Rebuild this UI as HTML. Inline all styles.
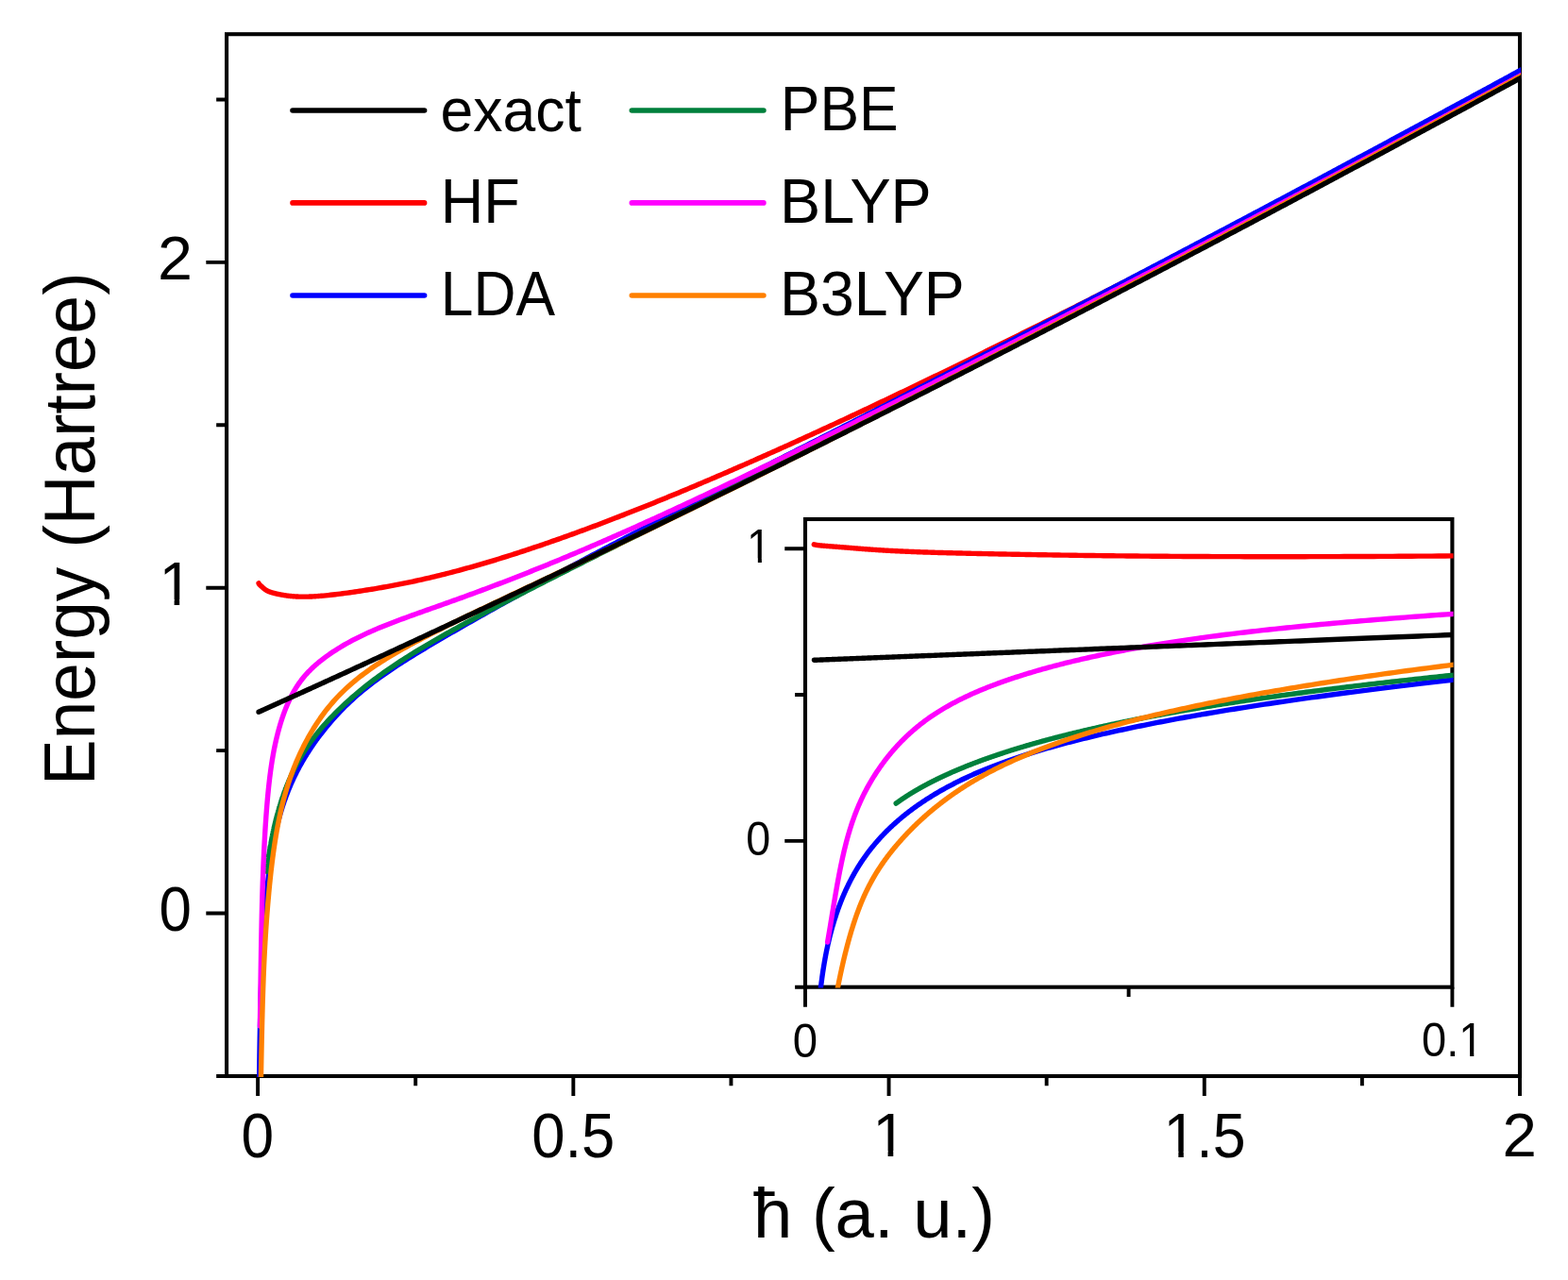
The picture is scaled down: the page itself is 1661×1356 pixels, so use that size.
<!DOCTYPE html>
<html lang="en"><head><meta charset="utf-8"><title>Energy vs ħ</title>
<style>html,body{margin:0;padding:0;background:#fff;overflow:hidden}svg{display:block}</style></head>
<body>
<svg xmlns="http://www.w3.org/2000/svg" width="1661" height="1356" viewBox="0 0 1661 1356" font-family="'Liberation Sans', sans-serif" fill="#000">
<defs>
<clipPath id="cm"><rect x="239.05" y="35.2" width="1372.05" height="1105.8999999999999"/></clipPath>
<clipPath id="ci"><rect x="852.0" y="549.0" width="687.5000000000001" height="497.50000000000006"/></clipPath>
<clipPath id="k1"><path d="M-5,-80H60V-9H33.95V3H25.25V-9H-5Z"/></clipPath>
<clipPath id="k15"><path d="M-5,-80H200V3H52V-9H33.95V3H25.25V-9H-5Z"/></clipPath>
<clipPath id="k01"><path d="M-5,-80H200V-9H117.45V3H108.55V-9H89V3H-5Z"/></clipPath>
</defs>
<rect width="1661" height="1356" fill="#fff"/>
<g id="main-axes">
<rect x="240.05" y="36.2" width="1369.95" height="1103.8" fill="none" stroke="#000" stroke-width="4.1"/>
<path d="M273.10,1140.0V1161.0M607.33,1140.0V1161.0M941.55,1140.0V1161.0M1275.78,1140.0V1161.0M1610.00,1140.0V1161.0M440.21,1140.0V1150.2M774.44,1140.0V1150.2M1108.66,1140.0V1150.2M1442.89,1140.0V1150.2M240.05,967.50H218.3M240.05,622.70H218.3M240.05,277.90H218.3M240.05,1140.00H229.15M240.05,795.10H229.15M240.05,450.30H229.15M240.05,105.50H229.15" fill="none" stroke="#000" stroke-width="3.8999999999999995"/>
</g>
<g id="inset-axes">
<rect x="853.0" y="550.0" width="685.4000000000001" height="495.70000000000005" fill="none" stroke="#000" stroke-width="4.1"/>
<path d="M853.00,1045.7V1066.7M1538.40,1045.7V1066.7M1195.60,1045.7V1055.9M853.0,890.85H831.25M853.0,581.20H831.25M853.0,1045.70H842.1M853.0,736.03H842.1" fill="none" stroke="#000" stroke-width="3.8999999999999995"/>
</g>
<g id="main-curves" clip-path="url(#cm)" fill="none" stroke-width="5.4" stroke-linecap="round" stroke-linejoin="round">
<path stroke="#ff0000" d="M274.02,617.80 L274.03,617.83 L274.04,617.86 L274.05,617.89 L274.06,617.92 L274.07,617.95 L274.08,617.98 L274.09,618.01 L274.10,618.04 L274.11,618.07 L274.12,618.10 L274.13,618.13 L274.14,618.16 L274.15,618.18 L274.16,618.21 L274.18,618.24 L274.19,618.26 L274.20,618.29 L274.21,618.31 L274.22,618.34 L274.24,618.37 L274.25,618.39 L274.26,618.41 L274.27,618.44 L274.29,618.46 L274.30,618.49 L274.31,618.51 L274.32,618.53 L274.34,618.56 L274.35,618.58 L274.36,618.60 L274.38,618.62 L274.39,618.65 L274.41,618.67 L274.42,618.69 L274.43,618.71 L274.45,618.73 L274.46,618.75 L274.48,618.77 L274.49,618.79 L274.51,618.82 L274.52,618.84 L274.54,618.86 L274.55,618.88 L274.57,618.90 L274.59,618.92 L274.60,618.94 L274.62,618.96 L274.63,618.98 L274.65,619.00 L274.67,619.02 L274.68,619.03 L274.70,619.05 L274.72,619.07 L274.74,619.09 L274.75,619.11 L274.77,619.13 L274.79,619.15 L274.81,619.17 L274.83,619.19 L274.85,619.21 L274.86,619.23 L274.88,619.25 L274.90,619.27 L274.92,619.29 L274.94,619.31 L274.96,619.33 L274.98,619.34 L275.00,619.36 L275.02,619.38 L275.04,619.40 L275.06,619.42 L275.09,619.44 L275.11,619.46 L275.13,619.48 L275.15,619.50 L275.17,619.52 L275.20,619.54 L275.22,619.56 L275.24,619.59 L275.26,619.61 L275.29,619.63 L275.31,619.65 L275.34,619.67 L275.36,619.69 L275.38,619.71 L275.41,619.73 L275.43,619.76 L275.46,619.78 L275.48,619.80 L275.51,619.82 L275.54,619.85 L275.56,619.87 L275.59,619.89 L275.62,619.92 L275.64,619.94 L275.67,619.96 L275.70,619.99 L275.73,620.01 L275.76,620.04 L275.78,620.06 L275.81,620.09 L275.84,620.11 L275.87,620.14 L275.90,620.17 L275.93,620.19 L275.96,620.22 L275.99,620.25 L276.03,620.27 L276.06,620.30 L276.09,620.33 L276.12,620.36 L276.15,620.39 L276.19,620.42 L276.22,620.45 L276.25,620.48 L276.29,620.51 L276.32,620.54 L276.36,620.57 L276.39,620.60 L276.43,620.63 L276.46,620.66 L276.50,620.69 L276.54,620.73 L276.57,620.76 L276.61,620.79 L276.65,620.83 L276.69,620.86 L276.73,620.90 L276.77,620.93 L276.81,620.97 L276.85,621.01 L276.89,621.04 L276.93,621.08 L276.97,621.12 L277.01,621.15 L277.05,621.19 L277.10,621.23 L277.14,621.27 L277.18,621.31 L277.23,621.35 L277.27,621.39 L277.32,621.44 L277.36,621.48 L277.41,621.52 L277.45,621.56 L277.50,621.61 L277.55,621.65 L277.60,621.69 L277.65,621.74 L277.69,621.79 L277.74,621.83 L277.79,621.88 L277.85,621.93 L277.90,621.97 L277.95,622.02 L278.00,622.07 L278.05,622.12 L278.11,622.17 L278.16,622.22 L278.22,622.27 L278.27,622.32 L278.33,622.37 L278.38,622.43 L278.44,622.48 L278.50,622.53 L278.56,622.59 L278.62,622.64 L278.68,622.69 L278.74,622.75 L278.80,622.80 L278.86,622.86 L278.92,622.91 L278.98,622.97 L279.05,623.03 L279.11,623.08 L279.18,623.14 L279.24,623.20 L279.31,623.25 L279.38,623.31 L279.44,623.37 L279.51,623.43 L279.58,623.48 L279.65,623.54 L279.72,623.60 L279.79,623.66 L279.87,623.72 L279.94,623.78 L280.01,623.84 L280.09,623.90 L280.16,623.96 L280.24,624.01 L280.32,624.07 L280.40,624.13 L280.47,624.19 L280.55,624.25 L280.64,624.31 L280.72,624.37 L280.80,624.43 L280.88,624.49 L280.97,624.55 L281.05,624.61 L281.14,624.67 L281.22,624.73 L281.31,624.79 L281.40,624.85 L281.49,624.91 L281.58,624.97 L281.67,625.03 L281.77,625.09 L281.86,625.15 L281.95,625.21 L282.05,625.27 L282.15,625.33 L282.24,625.38 L282.34,625.44 L282.44,625.50 L282.54,625.56 L282.65,625.62 L282.75,625.67 L282.85,625.73 L282.96,625.79 L283.07,625.84 L283.17,625.90 L283.28,625.96 L283.39,626.01 L283.50,626.07 L283.62,626.12 L283.73,626.18 L283.84,626.23 L283.96,626.28 L284.08,626.34 L284.20,626.39 L284.32,626.44 L284.44,626.50 L284.56,626.55 L284.68,626.60 L284.81,626.65 L284.94,626.71 L285.06,626.76 L285.19,626.81 L285.32,626.86 L285.46,626.91 L285.59,626.96 L285.73,627.01 L285.86,627.06 L286.00,627.11 L286.14,627.16 L286.28,627.21 L286.42,627.26 L286.57,627.31 L286.71,627.36 L286.86,627.40 L287.01,627.45 L287.16,627.50 L287.31,627.55 L287.46,627.60 L287.62,627.65 L287.78,627.70 L287.93,627.74 L288.10,627.79 L288.26,627.84 L288.42,627.89 L288.59,627.93 L288.75,627.98 L288.92,628.03 L289.09,628.08 L289.27,628.13 L289.44,628.17 L289.62,628.22 L289.80,628.27 L289.98,628.32 L290.16,628.36 L290.35,628.41 L290.53,628.46 L290.72,628.51 L290.91,628.55 L291.10,628.60 L291.30,628.65 L291.49,628.70 L291.69,628.74 L291.89,628.79 L292.10,628.84 L292.30,628.89 L292.51,628.94 L292.72,628.98 L292.93,629.03 L293.15,629.08 L293.36,629.13 L293.58,629.18 L293.80,629.22 L294.03,629.27 L294.25,629.32 L294.48,629.37 L294.71,629.42 L294.95,629.47 L295.18,629.52 L295.42,629.56 L295.66,629.61 L295.91,629.66 L296.15,629.71 L296.40,629.76 L296.66,629.81 L296.91,629.86 L297.17,629.91 L297.43,629.96 L297.69,630.01 L297.96,630.06 L298.23,630.11 L298.50,630.16 L298.77,630.21 L299.05,630.26 L299.33,630.31 L299.61,630.36 L299.90,630.41 L300.19,630.46 L300.48,630.51 L300.78,630.55 L301.08,630.60 L301.38,630.65 L301.69,630.70 L301.99,630.75 L302.31,630.79 L302.62,630.84 L302.94,630.89 L303.26,630.93 L303.59,630.98 L303.92,631.03 L304.25,631.07 L304.59,631.12 L304.93,631.16 L305.27,631.20 L305.62,631.25 L305.97,631.29 L306.33,631.33 L306.69,631.37 L307.05,631.41 L307.42,631.45 L307.79,631.49 L308.17,631.53 L308.54,631.56 L308.93,631.60 L309.31,631.64 L309.71,631.67 L310.10,631.71 L310.50,631.74 L310.91,631.77 L311.32,631.80 L311.73,631.83 L312.15,631.86 L312.57,631.89 L312.99,631.91 L313.43,631.94 L313.86,631.96 L314.30,631.99 L314.75,632.01 L315.20,632.03 L315.65,632.05 L316.11,632.07 L316.58,632.08 L317.05,632.10 L317.52,632.11 L318.00,632.13 L318.49,632.14 L318.98,632.15 L319.48,632.15 L319.98,632.16 L320.48,632.17 L321.00,632.17 L321.51,632.17 L322.04,632.17 L322.57,632.17 L323.10,632.16 L323.64,632.16 L324.19,632.15 L324.74,632.14 L325.30,632.13 L325.86,632.12 L326.43,632.10 L327.01,632.08 L327.59,632.06 L328.18,632.04 L328.78,632.02 L329.38,631.99 L329.99,631.96 L330.60,631.93 L331.22,631.90 L331.85,631.87 L332.49,631.83 L333.13,631.79 L333.78,631.75 L334.44,631.71 L335.10,631.67 L335.77,631.62 L336.45,631.57 L337.13,631.52 L337.82,631.47 L338.52,631.42 L339.23,631.36 L339.95,631.30 L342.51,631.08 L345.07,630.83 L347.63,630.58 L350.19,630.31 L352.75,630.02 L355.31,629.72 L357.87,629.41 L360.44,629.10 L363.00,628.77 L365.56,628.43 L368.12,628.08 L370.68,627.72 L373.24,627.36 L375.80,626.99 L378.36,626.61 L380.93,626.23 L383.49,625.83 L386.05,625.44 L388.61,625.03 L391.17,624.62 L393.73,624.21 L396.29,623.79 L398.85,623.36 L401.42,622.92 L403.98,622.48 L406.54,622.03 L409.10,621.58 L411.66,621.12 L414.22,620.64 L416.78,620.17 L419.34,619.68 L421.91,619.18 L424.47,618.68 L427.03,618.17 L429.59,617.65 L432.15,617.13 L434.71,616.59 L437.27,616.05 L439.83,615.50 L442.40,614.94 L444.96,614.38 L447.52,613.80 L450.08,613.22 L452.64,612.63 L455.20,612.03 L457.76,611.43 L460.32,610.82 L462.89,610.20 L465.45,609.57 L468.01,608.94 L470.57,608.30 L473.13,607.65 L475.69,606.99 L478.25,606.33 L480.82,605.66 L483.38,604.99 L485.94,604.30 L488.50,603.61 L491.06,602.92 L493.62,602.22 L496.18,601.51 L498.74,600.79 L501.31,600.07 L503.87,599.34 L506.43,598.61 L508.99,597.87 L511.55,597.12 L514.11,596.37 L516.67,595.61 L519.23,594.85 L521.80,594.08 L524.36,593.30 L526.92,592.52 L529.48,591.73 L532.04,590.94 L534.60,590.14 L537.16,589.34 L539.72,588.53 L542.29,587.72 L544.85,586.90 L547.41,586.08 L549.97,585.25 L552.53,584.42 L555.09,583.58 L557.65,582.73 L560.21,581.89 L562.78,581.03 L565.34,580.18 L567.90,579.31 L570.46,578.45 L573.02,577.58 L575.58,576.70 L578.14,575.82 L580.70,574.94 L583.27,574.05 L585.83,573.15 L588.39,572.26 L590.95,571.36 L593.51,570.45 L596.07,569.54 L598.63,568.63 L601.20,567.71 L603.76,566.79 L606.32,565.86 L608.88,564.94 L611.44,564.00 L614.00,563.07 L616.56,562.13 L619.12,561.18 L621.69,560.24 L624.25,559.28 L626.81,558.33 L629.37,557.37 L631.93,556.41 L634.49,555.45 L637.05,554.48 L639.61,553.51 L642.18,552.53 L644.74,551.55 L647.30,550.57 L649.86,549.59 L652.42,548.60 L654.98,547.61 L657.54,546.61 L660.10,545.62 L662.67,544.61 L665.23,543.61 L667.79,542.60 L670.35,541.60 L672.91,540.58 L675.47,539.57 L678.03,538.55 L680.59,537.53 L683.16,536.50 L685.72,535.48 L688.28,534.45 L690.84,533.42 L693.40,532.38 L695.96,531.34 L698.52,530.30 L701.08,529.26 L703.65,528.21 L706.21,527.17 L708.77,526.11 L711.33,525.06 L713.89,524.00 L716.45,522.95 L719.01,521.89 L721.58,520.82 L724.14,519.76 L726.70,518.69 L729.26,517.62 L731.82,516.54 L734.38,515.47 L736.94,514.39 L739.50,513.31 L742.07,512.23 L744.63,511.14 L747.19,510.05 L749.75,508.96 L752.31,507.87 L754.87,506.78 L757.43,505.68 L759.99,504.58 L762.56,503.48 L765.12,502.38 L767.68,501.28 L770.24,500.17 L772.80,499.06 L775.36,497.95 L777.92,496.84 L780.48,495.72 L783.05,494.60 L785.61,493.48 L788.17,492.36 L790.73,491.24 L793.29,490.11 L795.85,488.99 L798.41,487.86 L800.97,486.73 L803.54,485.59 L806.10,484.46 L808.66,483.32 L811.22,482.18 L813.78,481.04 L816.34,479.90 L818.90,478.76 L821.46,477.61 L824.03,476.46 L826.59,475.31 L829.15,474.16 L831.71,473.01 L834.27,471.85 L836.83,470.70 L839.39,469.54 L841.95,468.38 L844.52,467.22 L847.08,466.05 L849.64,464.89 L852.20,463.72 L854.76,462.55 L857.32,461.38 L859.88,460.21 L862.45,459.04 L865.01,457.86 L867.57,456.68 L870.13,455.50 L872.69,454.32 L875.25,453.14 L877.81,451.96 L880.37,450.78 L882.94,449.59 L885.50,448.40 L888.06,447.21 L890.62,446.02 L893.18,444.83 L895.74,443.64 L898.30,442.44 L900.86,441.24 L903.43,440.05 L905.99,438.85 L908.55,437.65 L911.11,436.44 L913.67,435.24 L916.23,434.03 L918.79,432.83 L921.35,431.62 L923.92,430.41 L926.48,429.20 L929.04,427.99 L931.60,426.78 L934.16,425.56 L936.72,424.35 L939.28,423.13 L941.84,421.91 L944.41,420.70 L946.97,419.48 L949.53,418.25 L952.09,417.03 L954.65,415.81 L957.21,414.58 L959.77,413.36 L962.33,412.13 L964.90,410.90 L967.46,409.67 L970.02,408.44 L972.58,407.21 L975.14,405.97 L977.70,404.74 L980.26,403.51 L982.83,402.27 L985.39,401.03 L987.95,399.79 L990.51,398.55 L993.07,397.31 L995.63,396.07 L998.19,394.83 L1000.75,393.58 L1003.32,392.34 L1005.88,391.09 L1008.44,389.85 L1011.00,388.60 L1013.56,387.35 L1016.12,386.10 L1018.68,384.85 L1021.24,383.60 L1023.81,382.34 L1026.37,381.09 L1028.93,379.84 L1031.49,378.58 L1034.05,377.32 L1036.61,376.07 L1039.17,374.81 L1041.73,373.55 L1044.30,372.29 L1046.86,371.03 L1049.42,369.76 L1051.98,368.50 L1054.54,367.24 L1057.10,365.97 L1059.66,364.71 L1062.22,363.44 L1064.79,362.17 L1067.35,360.90 L1069.91,359.63 L1072.47,358.36 L1075.03,357.09 L1077.59,355.82 L1080.15,354.55 L1082.71,353.27 L1085.28,352.00 L1087.84,350.73 L1090.40,349.45 L1092.96,348.17 L1095.52,346.89 L1098.08,345.62 L1100.64,344.34 L1103.21,343.06 L1105.77,341.78 L1108.33,340.49 L1110.89,339.21 L1113.45,337.93 L1116.01,336.64 L1118.57,335.36 L1121.13,334.07 L1123.70,332.79 L1126.26,331.50 L1128.82,330.21 L1131.38,328.92 L1133.94,327.64 L1136.50,326.35 L1139.06,325.05 L1141.62,323.76 L1144.19,322.47 L1146.75,321.18 L1149.31,319.88 L1151.87,318.59 L1154.43,317.29 L1156.99,316.00 L1159.55,314.70 L1162.11,313.40 L1164.68,312.11 L1167.24,310.81 L1169.80,309.51 L1172.36,308.21 L1174.92,306.91 L1177.48,305.61 L1180.04,304.30 L1182.60,303.00 L1185.17,301.70 L1187.73,300.39 L1190.29,299.09 L1192.85,297.78 L1195.41,296.48 L1197.97,295.17 L1200.53,293.86 L1203.09,292.56 L1205.66,291.25 L1208.22,289.94 L1210.78,288.63 L1213.34,287.32 L1215.90,286.01 L1218.46,284.69 L1221.02,283.38 L1223.58,282.07 L1226.15,280.75 L1228.71,279.44 L1231.27,278.13 L1233.83,276.81 L1236.39,275.49 L1238.95,274.18 L1241.51,272.86 L1244.08,271.54 L1246.64,270.22 L1249.20,268.90 L1251.76,267.58 L1254.32,266.26 L1256.88,264.94 L1259.44,263.62 L1262.00,262.30 L1264.57,260.98 L1267.13,259.65 L1269.69,258.33 L1272.25,257.00 L1274.81,255.68 L1277.37,254.35 L1279.93,253.03 L1282.49,251.70 L1285.06,250.37 L1287.62,249.05 L1290.18,247.72 L1292.74,246.39 L1295.30,245.06 L1297.86,243.73 L1300.42,242.40 L1302.98,241.07 L1305.55,239.74 L1308.11,238.40 L1310.67,237.07 L1313.23,235.74 L1315.79,234.40 L1318.35,233.07 L1320.91,231.73 L1323.47,230.40 L1326.04,229.06 L1328.60,227.73 L1331.16,226.39 L1333.72,225.05 L1336.28,223.71 L1338.84,222.38 L1341.40,221.04 L1343.96,219.70 L1346.53,218.36 L1349.09,217.02 L1351.65,215.68 L1354.21,214.33 L1356.77,212.99 L1359.33,211.65 L1361.89,210.31 L1364.46,208.96 L1367.02,207.62 L1369.58,206.27 L1372.14,204.93 L1374.70,203.58 L1377.26,202.24 L1379.82,200.89 L1382.38,199.54 L1384.95,198.20 L1387.51,196.85 L1390.07,195.50 L1392.63,194.15 L1395.19,192.80 L1397.75,191.45 L1400.31,190.10 L1402.87,188.75 L1405.44,187.40 L1408.00,186.05 L1410.56,184.70 L1413.12,183.34 L1415.68,181.99 L1418.24,180.64 L1420.80,179.28 L1423.36,177.93 L1425.93,176.58 L1428.49,175.22 L1431.05,173.86 L1433.61,172.51 L1436.17,171.15 L1438.73,169.79 L1441.29,168.44 L1443.85,167.08 L1446.42,165.72 L1448.98,164.36 L1451.54,163.00 L1454.10,161.64 L1456.66,160.28 L1459.22,158.92 L1461.78,157.56 L1464.34,156.20 L1466.91,154.84 L1469.47,153.48 L1472.03,152.11 L1474.59,150.75 L1477.15,149.39 L1479.71,148.02 L1482.27,146.66 L1484.84,145.29 L1487.40,143.93 L1489.96,142.56 L1492.52,141.20 L1495.08,139.83 L1497.64,138.46 L1500.20,137.10 L1502.76,135.73 L1505.33,134.36 L1507.89,132.99 L1510.45,131.62 L1513.01,130.25 L1515.57,128.88 L1518.13,127.51 L1520.69,126.14 L1523.25,124.77 L1525.82,123.40 L1528.38,122.03 L1530.94,120.66 L1533.50,119.29 L1536.06,117.91 L1538.62,116.54 L1541.18,115.17 L1543.74,113.79 L1546.31,112.42 L1548.87,111.04 L1551.43,109.67 L1553.99,108.29 L1556.55,106.92 L1559.11,105.54 L1561.67,104.16 L1564.23,102.79 L1566.80,101.41 L1569.36,100.03 L1571.92,98.65 L1574.48,97.27 L1577.04,95.90 L1579.60,94.52 L1582.16,93.14 L1584.72,91.76 L1587.29,90.38 L1589.85,89.00 L1592.41,87.62 L1594.97,86.23 L1597.53,84.85 L1600.09,83.47 L1602.65,82.09 L1605.22,80.70 L1607.78,79.32 L1610.34,77.94 L1612.90,76.55 L1615.46,75.17 L1618.02,73.79"/>
<path stroke="#0000ff" d="M274.44,1171.58 L274.45,1169.84 L274.46,1168.11 L274.48,1166.40 L274.49,1164.71 L274.50,1163.02 L274.52,1161.35 L274.53,1159.69 L274.55,1158.05 L274.56,1156.42 L274.57,1154.80 L274.59,1153.19 L274.60,1151.60 L274.62,1150.02 L274.63,1148.45 L274.65,1146.90 L274.66,1145.35 L274.68,1143.82 L274.69,1142.30 L274.71,1140.79 L274.73,1139.29 L274.74,1137.81 L274.76,1136.33 L274.78,1134.87 L274.79,1133.41 L274.81,1131.97 L274.83,1130.53 L274.84,1129.11 L274.86,1127.70 L274.88,1126.30 L274.89,1124.90 L274.91,1123.52 L274.93,1122.15 L274.95,1120.78 L274.97,1119.43 L274.98,1118.08 L275.00,1116.74 L275.02,1115.42 L275.04,1114.10 L275.06,1112.79 L275.08,1111.48 L275.10,1110.19 L275.12,1108.90 L275.14,1107.62 L275.16,1106.35 L275.18,1105.09 L275.20,1103.83 L275.22,1102.58 L275.24,1101.34 L275.26,1100.11 L275.28,1098.88 L275.30,1097.66 L275.33,1096.44 L275.35,1095.24 L275.37,1094.03 L275.39,1092.84 L275.41,1091.65 L275.44,1090.46 L275.46,1089.29 L275.48,1088.11 L275.51,1086.94 L275.53,1085.78 L275.56,1084.62 L275.58,1083.47 L275.60,1082.32 L275.63,1081.18 L275.65,1080.04 L275.68,1078.90 L275.70,1077.77 L275.73,1076.65 L275.76,1075.52 L275.78,1074.40 L275.81,1073.29 L275.83,1072.17 L275.86,1071.06 L275.89,1069.96 L275.92,1068.85 L275.94,1067.75 L275.97,1066.65 L276.00,1065.56 L276.03,1064.46 L276.06,1063.37 L276.09,1062.28 L276.12,1061.20 L276.15,1060.11 L276.18,1059.03 L276.21,1057.94 L276.24,1056.86 L276.27,1055.78 L276.30,1054.71 L276.33,1053.63 L276.36,1052.56 L276.39,1051.49 L276.43,1050.42 L276.46,1049.35 L276.49,1048.28 L276.53,1047.22 L276.56,1046.16 L276.59,1045.10 L276.63,1044.04 L276.66,1042.98 L276.70,1041.92 L276.73,1040.87 L276.77,1039.82 L276.81,1038.77 L276.84,1037.72 L276.88,1036.67 L276.92,1035.63 L276.95,1034.58 L276.99,1033.54 L277.03,1032.50 L277.07,1031.46 L277.11,1030.42 L277.15,1029.39 L277.19,1028.35 L277.23,1027.32 L277.27,1026.29 L277.31,1025.26 L277.35,1024.23 L277.39,1023.21 L277.44,1022.18 L277.48,1021.16 L277.52,1020.14 L277.57,1019.12 L277.61,1018.10 L277.65,1017.08 L277.70,1016.07 L277.74,1015.05 L277.79,1014.04 L277.84,1013.03 L277.88,1012.02 L277.93,1011.01 L277.98,1010.01 L278.03,1009.00 L278.07,1008.00 L278.12,1007.00 L278.17,1006.00 L278.22,1005.00 L278.27,1004.00 L278.32,1003.00 L278.38,1002.01 L278.43,1001.02 L278.48,1000.02 L278.53,999.03 L278.59,998.04 L278.64,997.06 L278.69,996.07 L278.75,995.09 L278.81,994.10 L278.86,993.12 L278.92,992.14 L278.98,991.16 L279.03,990.18 L279.09,989.20 L279.15,988.23 L279.21,987.25 L279.27,986.28 L279.33,985.31 L279.39,984.33 L279.46,983.37 L279.52,982.40 L279.58,981.43 L279.64,980.46 L279.71,979.50 L279.77,978.53 L279.84,977.57 L279.91,976.61 L279.97,975.65 L280.04,974.69 L280.11,973.73 L280.18,972.77 L280.25,971.82 L280.32,970.86 L280.39,969.91 L280.46,968.96 L280.53,968.01 L280.61,967.05 L280.68,966.10 L280.76,965.16 L280.83,964.21 L280.91,963.26 L280.99,962.32 L281.06,961.37 L281.14,960.43 L281.22,959.48 L281.30,958.54 L281.38,957.60 L281.46,956.66 L281.55,955.72 L281.63,954.78 L281.71,953.84 L281.80,952.91 L281.88,951.97 L281.97,951.04 L282.06,950.10 L282.15,949.17 L282.23,948.24 L282.32,947.30 L282.42,946.37 L282.51,945.44 L282.60,944.51 L282.69,943.58 L282.79,942.65 L282.88,941.73 L282.98,940.80 L283.08,939.87 L283.18,938.95 L283.27,938.02 L283.37,937.10 L283.48,936.17 L283.58,935.25 L283.68,934.33 L283.79,933.41 L283.89,932.49 L284.00,931.57 L284.10,930.65 L284.21,929.73 L284.32,928.81 L284.43,927.89 L284.55,926.98 L284.66,926.06 L284.77,925.15 L284.89,924.24 L285.00,923.32 L285.12,922.41 L285.24,921.50 L285.36,920.59 L285.48,919.68 L285.60,918.78 L285.72,917.87 L285.85,916.97 L285.97,916.06 L286.10,915.16 L286.23,914.26 L286.36,913.36 L286.49,912.46 L286.62,911.56 L286.75,910.66 L286.89,909.77 L287.02,908.87 L287.16,907.98 L287.30,907.09 L287.44,906.20 L287.58,905.31 L287.72,904.42 L287.87,903.54 L288.01,902.65 L288.16,901.77 L288.31,900.89 L288.46,900.00 L288.61,899.13 L288.76,898.25 L288.92,897.37 L289.07,896.50 L289.23,895.62 L289.39,894.75 L289.55,893.88 L289.71,893.01 L289.88,892.15 L290.04,891.28 L290.21,890.42 L290.38,889.56 L290.55,888.70 L290.72,887.84 L290.89,886.98 L291.07,886.13 L291.24,885.27 L291.42,884.42 L291.60,883.57 L291.79,882.72 L291.97,881.88 L292.16,881.03 L292.34,880.19 L292.53,879.35 L292.73,878.51 L292.92,877.67 L293.11,876.84 L293.31,876.00 L293.51,875.17 L293.71,874.34 L293.91,873.51 L294.12,872.68 L294.33,871.85 L294.54,871.03 L294.75,870.20 L294.96,869.38 L295.18,868.56 L295.39,867.74 L295.61,866.92 L295.83,866.11 L296.06,865.29 L296.28,864.48 L296.51,863.66 L296.74,862.85 L296.98,862.04 L297.21,861.23 L297.45,860.42 L297.69,859.61 L297.93,858.81 L298.18,858.00 L298.42,857.20 L298.67,856.39 L298.92,855.59 L299.18,854.79 L299.44,853.99 L299.70,853.19 L299.96,852.39 L300.22,851.59 L300.49,850.79 L300.76,850.00 L301.03,849.20 L301.31,848.40 L301.59,847.61 L301.87,846.82 L302.15,846.02 L302.44,845.23 L302.72,844.44 L303.02,843.65 L303.31,842.85 L303.61,842.06 L303.91,841.27 L304.21,840.48 L304.52,839.69 L304.83,838.90 L305.14,838.11 L305.46,837.32 L305.78,836.53 L306.10,835.75 L306.42,834.96 L306.75,834.17 L307.08,833.38 L307.42,832.59 L307.76,831.80 L308.10,831.02 L308.44,830.23 L308.79,829.44 L309.14,828.65 L309.50,827.86 L309.86,827.08 L310.22,826.29 L310.58,825.50 L310.95,824.71 L311.33,823.92 L311.70,823.13 L312.08,822.34 L312.47,821.55 L312.85,820.76 L313.25,819.97 L313.64,819.18 L314.04,818.38 L314.45,817.59 L314.85,816.80 L315.26,816.01 L315.68,815.21 L316.10,814.42 L316.52,813.62 L316.95,812.83 L317.38,812.03 L317.82,811.23 L318.26,810.43 L318.70,809.64 L319.15,808.84 L319.61,808.04 L320.07,807.23 L320.53,806.43 L321.00,805.63 L321.47,804.83 L321.94,804.02 L322.43,803.21 L322.91,802.41 L323.40,801.60 L323.90,800.79 L324.40,799.98 L324.90,799.17 L325.41,798.35 L325.93,797.54 L326.45,796.72 L326.98,795.91 L327.51,795.09 L328.04,794.27 L328.58,793.45 L329.13,792.62 L329.68,791.80 L330.24,790.97 L330.80,790.14 L331.37,789.31 L331.95,788.48 L332.53,787.65 L333.11,786.82 L333.70,785.98 L334.30,785.14 L334.90,784.30 L335.51,783.46 L336.13,782.62 L336.75,781.77 L337.37,780.92 L338.01,780.07 L338.65,779.22 L339.29,778.37 L339.95,777.51 L342.51,774.22 L345.07,771.02 L347.63,767.91 L350.19,764.89 L352.75,761.96 L355.31,759.11 L357.87,756.34 L360.44,753.64 L363.00,751.01 L365.56,748.45 L368.12,745.96 L370.68,743.52 L373.24,741.15 L375.80,738.84 L378.36,736.58 L380.93,734.37 L383.49,732.21 L386.05,730.10 L388.61,728.04 L391.17,726.02 L393.73,724.05 L396.29,722.11 L398.85,720.21 L401.42,718.34 L403.98,716.51 L406.54,714.70 L409.10,712.92 L411.66,711.16 L414.22,709.43 L416.78,707.71 L419.34,706.02 L421.91,704.34 L424.47,702.68 L427.03,701.04 L429.59,699.41 L432.15,697.80 L434.71,696.20 L437.27,694.61 L439.83,693.03 L442.40,691.47 L444.96,689.91 L447.52,688.36 L450.08,686.82 L452.64,685.28 L455.20,683.76 L457.76,682.24 L460.32,680.73 L462.89,679.22 L465.45,677.72 L468.01,676.22 L470.57,674.73 L473.13,673.24 L475.69,671.76 L478.25,670.28 L480.82,668.80 L483.38,667.32 L485.94,665.85 L488.50,664.39 L491.06,662.92 L493.62,661.46 L496.18,659.99 L498.74,658.54 L501.31,657.08 L503.87,655.62 L506.43,654.17 L508.99,652.72 L511.55,651.28 L514.11,649.83 L516.67,648.39 L519.23,646.95 L521.80,645.52 L524.36,644.08 L526.92,642.65 L529.48,641.22 L532.04,639.80 L534.60,638.37 L537.16,636.95 L539.72,635.53 L542.29,634.11 L544.85,632.70 L547.41,631.28 L549.97,629.87 L552.53,628.46 L555.09,627.06 L557.65,625.65 L560.21,624.25 L562.78,622.85 L565.34,621.45 L567.90,620.06 L570.46,618.66 L573.02,617.27 L575.58,615.88 L578.14,614.49 L580.70,613.11 L583.27,611.73 L585.83,610.34 L588.39,608.96 L590.95,607.59 L593.51,606.21 L596.07,604.84 L598.63,603.46 L601.20,602.09 L603.76,600.72 L606.32,599.36 L608.88,597.99 L611.44,596.63 L614.00,595.27 L616.56,593.91 L619.12,592.55 L621.69,591.19 L624.25,589.84 L626.81,588.48 L629.37,587.13 L631.93,585.78 L634.49,584.43 L637.05,583.08 L639.61,581.74 L642.18,580.39 L644.74,579.05 L647.30,577.71 L649.86,576.37 L652.42,575.03 L654.98,573.69 L657.54,572.36 L660.10,571.02 L662.67,569.69 L665.23,568.36 L667.79,567.02 L670.35,565.69 L672.91,564.37 L675.47,563.04 L678.03,561.71 L680.59,560.39 L683.16,559.06 L685.72,557.74 L688.28,556.42 L690.84,555.10 L693.40,553.78 L695.96,552.46 L698.52,551.14 L701.08,549.83 L703.65,548.51 L706.21,547.19 L708.77,545.88 L711.33,544.56 L713.89,543.25 L716.45,541.94 L719.01,540.63 L721.58,539.32 L724.14,538.00 L726.70,536.69 L729.26,535.39 L731.82,534.08 L734.38,532.77 L736.94,531.46 L739.50,530.15 L742.07,528.85 L744.63,527.54 L747.19,526.23 L749.75,524.93 L752.31,523.62 L754.87,522.32 L757.43,521.01 L759.99,519.71 L762.56,518.40 L765.12,517.10 L767.68,515.80 L770.24,514.49 L772.80,513.19 L775.36,511.89 L777.92,510.58 L780.48,509.28 L783.05,507.98 L785.61,506.68 L788.17,505.38 L790.73,504.08 L793.29,502.77 L795.85,501.47 L798.41,500.17 L800.97,498.87 L803.54,497.57 L806.10,496.27 L808.66,494.97 L811.22,493.67 L813.78,492.37 L816.34,491.07 L818.90,489.77 L821.46,488.47 L824.03,487.16 L826.59,485.86 L829.15,484.56 L831.71,483.26 L834.27,481.96 L836.83,480.66 L839.39,479.36 L841.95,478.06 L844.52,476.76 L847.08,475.46 L849.64,474.16 L852.20,472.86 L854.76,471.56 L857.32,470.26 L859.88,468.95 L862.45,467.65 L865.01,466.35 L867.57,465.05 L870.13,463.75 L872.69,462.45 L875.25,461.14 L877.81,459.84 L880.37,458.54 L882.94,457.24 L885.50,455.93 L888.06,454.63 L890.62,453.33 L893.18,452.03 L895.74,450.72 L898.30,449.42 L900.86,448.12 L903.43,446.81 L905.99,445.51 L908.55,444.20 L911.11,442.90 L913.67,441.59 L916.23,440.29 L918.79,438.98 L921.35,437.68 L923.92,436.37 L926.48,435.07 L929.04,433.76 L931.60,432.45 L934.16,431.15 L936.72,429.84 L939.28,428.53 L941.84,427.23 L944.41,425.92 L946.97,424.61 L949.53,423.30 L952.09,421.99 L954.65,420.68 L957.21,419.37 L959.77,418.07 L962.33,416.76 L964.90,415.45 L967.46,414.14 L970.02,412.83 L972.58,411.51 L975.14,410.20 L977.70,408.89 L980.26,407.58 L982.83,406.27 L985.39,404.96 L987.95,403.64 L990.51,402.33 L993.07,401.02 L995.63,399.70 L998.19,398.39 L1000.75,397.07 L1003.32,395.76 L1005.88,394.44 L1008.44,393.13 L1011.00,391.81 L1013.56,390.50 L1016.12,389.18 L1018.68,387.86 L1021.24,386.55 L1023.81,385.23 L1026.37,383.91 L1028.93,382.59 L1031.49,381.28 L1034.05,379.96 L1036.61,378.64 L1039.17,377.32 L1041.73,376.00 L1044.30,374.68 L1046.86,373.36 L1049.42,372.04 L1051.98,370.72 L1054.54,369.40 L1057.10,368.07 L1059.66,366.75 L1062.22,365.43 L1064.79,364.11 L1067.35,362.78 L1069.91,361.46 L1072.47,360.14 L1075.03,358.81 L1077.59,357.49 L1080.15,356.16 L1082.71,354.84 L1085.28,353.51 L1087.84,352.19 L1090.40,350.86 L1092.96,349.53 L1095.52,348.21 L1098.08,346.88 L1100.64,345.55 L1103.21,344.22 L1105.77,342.89 L1108.33,341.57 L1110.89,340.24 L1113.45,338.91 L1116.01,337.58 L1118.57,336.25 L1121.13,334.92 L1123.70,333.59 L1126.26,332.26 L1128.82,330.92 L1131.38,329.59 L1133.94,328.26 L1136.50,326.93 L1139.06,325.59 L1141.62,324.26 L1144.19,322.93 L1146.75,321.59 L1149.31,320.26 L1151.87,318.92 L1154.43,317.59 L1156.99,316.25 L1159.55,314.92 L1162.11,313.58 L1164.68,312.25 L1167.24,310.91 L1169.80,309.57 L1172.36,308.23 L1174.92,306.90 L1177.48,305.56 L1180.04,304.22 L1182.60,302.88 L1185.17,301.54 L1187.73,300.20 L1190.29,298.86 L1192.85,297.52 L1195.41,296.18 L1197.97,294.84 L1200.53,293.50 L1203.09,292.16 L1205.66,290.82 L1208.22,289.47 L1210.78,288.13 L1213.34,286.79 L1215.90,285.44 L1218.46,284.10 L1221.02,282.76 L1223.58,281.41 L1226.15,280.07 L1228.71,278.72 L1231.27,277.38 L1233.83,276.03 L1236.39,274.68 L1238.95,273.34 L1241.51,271.99 L1244.08,270.64 L1246.64,269.30 L1249.20,267.95 L1251.76,266.60 L1254.32,265.25 L1256.88,263.90 L1259.44,262.55 L1262.00,261.20 L1264.57,259.85 L1267.13,258.50 L1269.69,257.15 L1272.25,255.80 L1274.81,254.45 L1277.37,253.10 L1279.93,251.75 L1282.49,250.39 L1285.06,249.04 L1287.62,247.69 L1290.18,246.33 L1292.74,244.98 L1295.30,243.63 L1297.86,242.27 L1300.42,240.92 L1302.98,239.56 L1305.55,238.21 L1308.11,236.85 L1310.67,235.49 L1313.23,234.14 L1315.79,232.78 L1318.35,231.42 L1320.91,230.07 L1323.47,228.71 L1326.04,227.35 L1328.60,225.99 L1331.16,224.63 L1333.72,223.27 L1336.28,221.91 L1338.84,220.55 L1341.40,219.19 L1343.96,217.83 L1346.53,216.47 L1349.09,215.11 L1351.65,213.75 L1354.21,212.39 L1356.77,211.02 L1359.33,209.66 L1361.89,208.30 L1364.46,206.93 L1367.02,205.57 L1369.58,204.21 L1372.14,202.84 L1374.70,201.48 L1377.26,200.11 L1379.82,198.75 L1382.38,197.38 L1384.95,196.02 L1387.51,194.65 L1390.07,193.28 L1392.63,191.92 L1395.19,190.55 L1397.75,189.18 L1400.31,187.81 L1402.87,186.45 L1405.44,185.08 L1408.00,183.71 L1410.56,182.34 L1413.12,180.97 L1415.68,179.60 L1418.24,178.23 L1420.80,176.86 L1423.36,175.49 L1425.93,174.12 L1428.49,172.74 L1431.05,171.37 L1433.61,170.00 L1436.17,168.63 L1438.73,167.25 L1441.29,165.88 L1443.85,164.51 L1446.42,163.13 L1448.98,161.76 L1451.54,160.39 L1454.10,159.01 L1456.66,157.64 L1459.22,156.26 L1461.78,154.88 L1464.34,153.51 L1466.91,152.13 L1469.47,150.76 L1472.03,149.38 L1474.59,148.00 L1477.15,146.62 L1479.71,145.25 L1482.27,143.87 L1484.84,142.49 L1487.40,141.11 L1489.96,139.73 L1492.52,138.35 L1495.08,136.97 L1497.64,135.59 L1500.20,134.21 L1502.76,132.83 L1505.33,131.45 L1507.89,130.07 L1510.45,128.69 L1513.01,127.30 L1515.57,125.92 L1518.13,124.54 L1520.69,123.16 L1523.25,121.77 L1525.82,120.39 L1528.38,119.00 L1530.94,117.62 L1533.50,116.24 L1536.06,114.85 L1538.62,113.47 L1541.18,112.08 L1543.74,110.70 L1546.31,109.31 L1548.87,107.92 L1551.43,106.54 L1553.99,105.15 L1556.55,103.76 L1559.11,102.37 L1561.67,100.99 L1564.23,99.60 L1566.80,98.21 L1569.36,96.82 L1571.92,95.43 L1574.48,94.04 L1577.04,92.65 L1579.60,91.26 L1582.16,89.87 L1584.72,88.48 L1587.29,87.09 L1589.85,85.70 L1592.41,84.31 L1594.97,82.92 L1597.53,81.53 L1600.09,80.13 L1602.65,78.74 L1605.22,77.35 L1607.78,75.96 L1610.34,74.56 L1612.90,73.17 L1615.46,71.78 L1618.02,70.38"/>
<path stroke="#00803c" d="M282.49,923.20 L282.54,922.82 L282.58,922.43 L282.63,922.05 L282.68,921.67 L282.73,921.28 L282.77,920.90 L282.82,920.52 L282.87,920.14 L282.92,919.76 L282.97,919.37 L283.01,918.99 L283.06,918.61 L283.11,918.23 L283.16,917.85 L283.21,917.47 L283.26,917.09 L283.31,916.71 L283.36,916.33 L283.41,915.95 L283.46,915.57 L283.51,915.19 L283.57,914.81 L283.62,914.43 L283.67,914.05 L283.72,913.67 L283.77,913.29 L283.83,912.92 L283.88,912.54 L283.93,912.16 L283.99,911.78 L284.04,911.40 L284.09,911.02 L284.15,910.65 L284.20,910.27 L284.26,909.89 L284.31,909.51 L284.37,909.14 L284.42,908.76 L284.48,908.38 L284.53,908.01 L284.59,907.63 L284.65,907.25 L284.70,906.88 L284.76,906.50 L284.82,906.12 L284.88,905.75 L284.93,905.37 L284.99,904.99 L285.05,904.62 L285.11,904.24 L285.17,903.87 L285.23,903.49 L285.29,903.12 L285.35,902.74 L285.41,902.37 L285.47,901.99 L285.53,901.62 L285.59,901.24 L285.65,900.87 L285.72,900.49 L285.78,900.12 L285.84,899.74 L285.90,899.37 L285.97,898.99 L286.03,898.62 L286.09,898.24 L286.16,897.87 L286.22,897.49 L286.29,897.12 L286.35,896.75 L286.42,896.37 L286.48,896.00 L286.55,895.62 L286.62,895.25 L286.68,894.88 L286.75,894.50 L286.82,894.13 L286.88,893.75 L286.95,893.38 L287.02,893.01 L287.09,892.63 L287.16,892.26 L287.23,891.89 L287.30,891.51 L287.37,891.14 L287.44,890.77 L287.51,890.39 L287.58,890.02 L287.65,889.64 L287.72,889.27 L287.79,888.90 L287.87,888.52 L287.94,888.15 L288.01,887.78 L288.09,887.40 L288.16,887.03 L288.23,886.66 L288.31,886.28 L288.38,885.91 L288.46,885.54 L288.53,885.16 L288.61,884.79 L288.69,884.42 L288.76,884.04 L288.84,883.67 L288.92,883.29 L289.00,882.92 L289.08,882.55 L289.15,882.17 L289.23,881.80 L289.31,881.43 L289.39,881.05 L289.47,880.68 L289.55,880.30 L289.63,879.93 L289.72,879.56 L289.80,879.18 L289.88,878.81 L289.96,878.43 L290.05,878.06 L290.13,877.69 L290.21,877.31 L290.30,876.94 L290.38,876.56 L290.47,876.19 L290.55,875.81 L290.64,875.44 L290.73,875.06 L290.81,874.69 L290.90,874.32 L290.99,873.94 L291.08,873.57 L291.17,873.19 L291.25,872.82 L291.34,872.44 L291.43,872.07 L291.52,871.69 L291.62,871.32 L291.71,870.94 L291.80,870.57 L291.89,870.19 L291.98,869.82 L292.08,869.44 L292.17,869.07 L292.26,868.69 L292.36,868.32 L292.45,867.94 L292.55,867.56 L292.64,867.19 L292.74,866.81 L292.84,866.44 L292.94,866.06 L293.03,865.69 L293.13,865.31 L293.23,864.94 L293.33,864.56 L293.43,864.18 L293.53,863.81 L293.63,863.43 L293.73,863.06 L293.83,862.68 L293.94,862.30 L294.04,861.93 L294.14,861.55 L294.25,861.18 L294.35,860.80 L294.45,860.42 L294.56,860.05 L294.67,859.67 L294.77,859.29 L294.88,858.92 L294.99,858.54 L295.09,858.16 L295.20,857.79 L295.31,857.41 L295.42,857.03 L295.53,856.66 L295.64,856.28 L295.75,855.90 L295.86,855.53 L295.98,855.15 L296.09,854.77 L296.20,854.40 L296.32,854.02 L296.43,853.64 L296.55,853.26 L296.66,852.89 L296.78,852.51 L296.89,852.13 L297.01,851.76 L297.13,851.38 L297.25,851.00 L297.37,850.62 L297.49,850.24 L297.61,849.87 L297.73,849.49 L297.85,849.11 L297.97,848.73 L298.09,848.36 L298.22,847.98 L298.34,847.60 L298.47,847.22 L298.59,846.84 L298.72,846.47 L298.84,846.09 L298.97,845.71 L299.10,845.33 L299.23,844.95 L299.35,844.57 L299.48,844.19 L299.61,843.82 L299.74,843.44 L299.88,843.06 L300.01,842.68 L300.14,842.30 L300.27,841.92 L300.41,841.54 L300.54,841.16 L300.68,840.78 L300.81,840.41 L300.95,840.03 L301.09,839.65 L301.23,839.27 L301.36,838.89 L301.50,838.51 L301.64,838.13 L301.78,837.75 L301.93,837.37 L302.07,836.99 L302.21,836.61 L302.35,836.23 L302.50,835.85 L302.64,835.47 L302.79,835.09 L302.94,834.71 L303.08,834.33 L303.23,833.95 L303.38,833.57 L303.53,833.19 L303.68,832.81 L303.83,832.43 L303.98,832.05 L304.13,831.67 L304.29,831.29 L304.44,830.91 L304.59,830.52 L304.75,830.14 L304.91,829.76 L305.06,829.38 L305.22,829.00 L305.38,828.62 L305.54,828.24 L305.70,827.86 L305.86,827.48 L306.02,827.10 L306.18,826.72 L306.35,826.33 L306.51,825.95 L306.67,825.57 L306.84,825.19 L307.01,824.81 L307.17,824.43 L307.34,824.05 L307.51,823.67 L307.68,823.28 L307.85,822.90 L308.02,822.52 L308.19,822.14 L308.37,821.76 L308.54,821.38 L308.72,821.00 L308.89,820.62 L309.07,820.23 L309.25,819.85 L309.42,819.47 L309.60,819.09 L309.78,818.71 L309.96,818.33 L310.15,817.95 L310.33,817.56 L310.51,817.18 L310.70,816.80 L310.88,816.42 L311.07,816.04 L311.25,815.66 L311.44,815.28 L311.63,814.89 L311.82,814.51 L312.01,814.13 L312.20,813.75 L312.40,813.37 L312.59,812.99 L312.79,812.61 L312.98,812.22 L313.18,811.84 L313.38,811.46 L313.57,811.08 L313.77,810.70 L313.97,810.32 L314.18,809.94 L314.38,809.55 L314.58,809.17 L314.79,808.79 L314.99,808.41 L315.20,808.03 L315.41,807.65 L315.62,807.27 L315.82,806.88 L316.04,806.50 L316.25,806.12 L316.46,805.74 L316.67,805.36 L316.89,804.98 L317.10,804.60 L317.32,804.22 L317.54,803.84 L317.76,803.45 L317.98,803.07 L318.20,802.69 L318.42,802.31 L318.65,801.93 L318.87,801.55 L319.10,801.17 L319.32,800.79 L319.55,800.41 L319.78,800.03 L320.01,799.64 L320.24,799.26 L320.47,798.88 L320.71,798.50 L320.94,798.12 L321.18,797.74 L321.42,797.36 L321.65,796.98 L321.89,796.60 L322.13,796.22 L322.38,795.84 L322.62,795.46 L322.86,795.08 L323.11,794.70 L323.35,794.32 L323.60,793.93 L323.85,793.55 L324.10,793.17 L324.35,792.79 L324.61,792.41 L324.86,792.03 L325.11,791.65 L325.37,791.27 L325.63,790.89 L325.89,790.51 L326.15,790.13 L326.41,789.75 L326.67,789.37 L326.94,788.99 L327.20,788.60 L327.47,788.22 L327.74,787.84 L328.01,787.46 L328.28,787.08 L328.55,786.70 L328.82,786.32 L329.10,785.94 L329.37,785.55 L329.65,785.17 L329.93,784.79 L330.21,784.41 L330.49,784.03 L330.77,783.64 L331.06,783.26 L331.34,782.88 L331.63,782.50 L331.92,782.11 L332.21,781.73 L332.50,781.35 L332.79,780.96 L333.09,780.58 L333.39,780.20 L333.68,779.81 L333.98,779.43 L334.28,779.05 L334.58,778.66 L334.89,778.28 L335.19,777.89 L335.50,777.51 L335.80,777.12 L336.11,776.74 L336.42,776.35 L336.74,775.96 L337.05,775.58 L337.37,775.19 L337.68,774.81 L338.00,774.42 L338.32,774.03 L338.64,773.64 L338.97,773.26 L339.29,772.87 L339.62,772.48 L339.95,772.09 L342.51,769.11 L345.07,766.22 L347.63,763.41 L350.19,760.68 L352.75,758.01 L355.31,755.41 L357.87,752.86 L360.44,750.37 L363.00,747.93 L365.56,745.54 L368.12,743.19 L370.68,740.89 L373.24,738.63 L375.80,736.42 L378.36,734.24 L380.93,732.10 L383.49,730.00 L386.05,727.94 L388.61,725.90 L391.17,723.90 L393.73,721.93 L396.29,719.99 L398.85,718.08 L401.42,716.20 L403.98,714.34 L406.54,712.51 L409.10,710.71 L411.66,708.93 L414.22,707.17 L416.78,705.43 L419.34,703.72 L421.91,702.02 L424.47,700.35 L427.03,698.69 L429.59,697.06 L432.15,695.44 L434.71,693.83 L437.27,692.24 L439.83,690.67 L442.40,689.11 L444.96,687.56 L447.52,686.02 L450.08,684.50 L452.64,682.99 L455.20,681.48 L457.76,679.99 L460.32,678.51 L462.89,677.03 L465.45,675.57 L468.01,674.11 L470.57,672.66 L473.13,671.22 L475.69,669.78 L478.25,668.36 L480.82,666.93 L483.38,665.52 L485.94,664.11 L488.50,662.70 L491.06,661.31 L493.62,659.91 L496.18,658.52 L498.74,657.14 L501.31,655.76 L503.87,654.38 L506.43,653.01 L508.99,651.64 L511.55,650.28 L514.11,648.92 L516.67,647.56 L519.23,646.21 L521.80,644.85 L524.36,643.51 L526.92,642.16 L529.48,640.82 L532.04,639.48 L534.60,638.14 L537.16,636.80 L539.72,635.47 L542.29,634.14 L544.85,632.81 L547.41,631.48 L549.97,630.16 L552.53,628.83 L555.09,627.51 L557.65,626.19 L560.21,624.87 L562.78,623.56 L565.34,622.24 L567.90,620.93 L570.46,619.62 L573.02,618.31 L575.58,617.00 L578.14,615.69 L580.70,614.39 L583.27,613.08 L585.83,611.78 L588.39,610.48 L590.95,609.18 L593.51,607.88 L596.07,606.58 L598.63,605.28 L601.20,603.98 L603.76,602.69 L606.32,601.39 L608.88,600.10 L611.44,598.81 L614.00,597.52 L616.56,596.23 L619.12,594.94 L621.69,593.65 L624.25,592.36 L626.81,591.07 L629.37,589.78 L631.93,588.50 L634.49,587.21 L637.05,585.93 L639.61,584.64 L642.18,583.36 L644.74,582.07 L647.30,580.79 L649.86,579.51 L652.42,578.23 L654.98,576.95 L657.54,575.67 L660.10,574.38 L662.67,573.11 L665.23,571.83 L667.79,570.55 L670.35,569.27 L672.91,567.99 L675.47,566.71 L678.03,565.43 L680.59,564.16 L683.16,562.88 L685.72,561.60 L688.28,560.33 L690.84,559.05 L693.40,557.77 L695.96,556.50 L698.52,555.22 L701.08,553.95 L703.65,552.67 L706.21,551.40 L708.77,550.12 L711.33,548.85 L713.89,547.57 L716.45,546.30 L719.01,545.03 L721.58,543.75 L724.14,542.48 L726.70,541.20 L729.26,539.93 L731.82,538.66 L734.38,537.38 L736.94,536.11 L739.50,534.83 L742.07,533.56 L744.63,532.29 L747.19,531.01 L749.75,529.74 L752.31,528.47 L754.87,527.19 L757.43,525.92 L759.99,524.64 L762.56,523.37 L765.12,522.10 L767.68,520.82 L770.24,519.55 L772.80,518.27 L775.36,517.00 L777.92,515.72 L780.48,514.45 L783.05,513.17 L785.61,511.90 L788.17,510.62 L790.73,509.35 L793.29,508.07 L795.85,506.80 L798.41,505.52 L800.97,504.24 L803.54,502.97 L806.10,501.69 L808.66,500.41 L811.22,499.14 L813.78,497.86 L816.34,496.58 L818.90,495.30 L821.46,494.02 L824.03,492.75 L826.59,491.47 L829.15,490.19 L831.71,488.91 L834.27,487.63 L836.83,486.35 L839.39,485.07 L841.95,483.79 L844.52,482.51 L847.08,481.23 L849.64,479.94 L852.20,478.66 L854.76,477.38 L857.32,476.10 L859.88,474.81 L862.45,473.53 L865.01,472.25 L867.57,470.96 L870.13,469.68 L872.69,468.40 L875.25,467.11 L877.81,465.83 L880.37,464.54 L882.94,463.25 L885.50,461.97 L888.06,460.68 L890.62,459.39 L893.18,458.11 L895.74,456.82 L898.30,455.53 L900.86,454.24 L903.43,452.95 L905.99,451.66 L908.55,450.37 L911.11,449.08 L913.67,447.79 L916.23,446.50 L918.79,445.21 L921.35,443.92 L923.92,442.63 L926.48,441.34 L929.04,440.04 L931.60,438.75 L934.16,437.46 L936.72,436.16 L939.28,434.87 L941.84,433.57 L944.41,432.28 L946.97,430.98 L949.53,429.69 L952.09,428.39 L954.65,427.09 L957.21,425.79 L959.77,424.50 L962.33,423.20 L964.90,421.90 L967.46,420.60 L970.02,419.30 L972.58,418.00 L975.14,416.70 L977.70,415.40 L980.26,414.10 L982.83,412.80 L985.39,411.49 L987.95,410.19 L990.51,408.89 L993.07,407.59 L995.63,406.28 L998.19,404.98 L1000.75,403.67 L1003.32,402.37 L1005.88,401.06 L1008.44,399.76 L1011.00,398.45 L1013.56,397.14 L1016.12,395.83 L1018.68,394.53 L1021.24,393.22 L1023.81,391.91 L1026.37,390.60 L1028.93,389.29 L1031.49,387.98 L1034.05,386.67 L1036.61,385.36 L1039.17,384.05 L1041.73,382.74 L1044.30,381.42 L1046.86,380.11 L1049.42,378.80 L1051.98,377.48 L1054.54,376.17 L1057.10,374.85 L1059.66,373.54 L1062.22,372.22 L1064.79,370.91 L1067.35,369.59 L1069.91,368.27 L1072.47,366.96 L1075.03,365.64 L1077.59,364.32 L1080.15,363.00 L1082.71,361.68 L1085.28,360.36 L1087.84,359.04 L1090.40,357.72 L1092.96,356.40 L1095.52,355.08 L1098.08,353.76 L1100.64,352.44 L1103.21,351.12 L1105.77,349.79 L1108.33,348.47 L1110.89,347.15 L1113.45,345.82 L1116.01,344.50 L1118.57,343.17 L1121.13,341.85 L1123.70,340.52 L1126.26,339.20 L1128.82,337.87 L1131.38,336.54 L1133.94,335.21 L1136.50,333.89 L1139.06,332.56 L1141.62,331.23 L1144.19,329.90 L1146.75,328.57 L1149.31,327.24 L1151.87,325.91 L1154.43,324.58 L1156.99,323.25 L1159.55,321.92 L1162.11,320.58 L1164.68,319.25 L1167.24,317.92 L1169.80,316.58 L1172.36,315.25 L1174.92,313.92 L1177.48,312.58 L1180.04,311.25 L1182.60,309.91 L1185.17,308.58 L1187.73,307.24 L1190.29,305.90 L1192.85,304.57 L1195.41,303.23 L1197.97,301.89 L1200.53,300.55 L1203.09,299.22 L1205.66,297.88 L1208.22,296.54 L1210.78,295.20 L1213.34,293.86 L1215.90,292.52 L1218.46,291.18 L1221.02,289.83 L1223.58,288.49 L1226.15,287.15 L1228.71,285.81 L1231.27,284.47 L1233.83,283.12 L1236.39,281.78 L1238.95,280.43 L1241.51,279.09 L1244.08,277.75 L1246.64,276.40 L1249.20,275.05 L1251.76,273.71 L1254.32,272.36 L1256.88,271.02 L1259.44,269.67 L1262.00,268.32 L1264.57,266.97 L1267.13,265.63 L1269.69,264.28 L1272.25,262.93 L1274.81,261.58 L1277.37,260.23 L1279.93,258.88 L1282.49,257.53 L1285.06,256.18 L1287.62,254.83 L1290.18,253.47 L1292.74,252.12 L1295.30,250.77 L1297.86,249.42 L1300.42,248.06 L1302.98,246.71 L1305.55,245.36 L1308.11,244.00 L1310.67,242.65 L1313.23,241.29 L1315.79,239.94 L1318.35,238.58 L1320.91,237.23 L1323.47,235.87 L1326.04,234.51 L1328.60,233.16 L1331.16,231.80 L1333.72,230.44 L1336.28,229.08 L1338.84,227.72 L1341.40,226.37 L1343.96,225.01 L1346.53,223.65 L1349.09,222.29 L1351.65,220.93 L1354.21,219.57 L1356.77,218.21 L1359.33,216.84 L1361.89,215.48 L1364.46,214.12 L1367.02,212.76 L1369.58,211.40 L1372.14,210.03 L1374.70,208.67 L1377.26,207.31 L1379.82,205.94 L1382.38,204.58 L1384.95,203.21 L1387.51,201.85 L1390.07,200.48 L1392.63,199.12 L1395.19,197.75 L1397.75,196.38 L1400.31,195.02 L1402.87,193.65 L1405.44,192.28 L1408.00,190.91 L1410.56,189.54 L1413.12,188.18 L1415.68,186.81 L1418.24,185.44 L1420.80,184.07 L1423.36,182.70 L1425.93,181.33 L1428.49,179.96 L1431.05,178.59 L1433.61,177.22 L1436.17,175.84 L1438.73,174.47 L1441.29,173.10 L1443.85,171.73 L1446.42,170.35 L1448.98,168.98 L1451.54,167.61 L1454.10,166.23 L1456.66,164.86 L1459.22,163.48 L1461.78,162.11 L1464.34,160.73 L1466.91,159.36 L1469.47,157.98 L1472.03,156.61 L1474.59,155.23 L1477.15,153.85 L1479.71,152.48 L1482.27,151.10 L1484.84,149.72 L1487.40,148.34 L1489.96,146.96 L1492.52,145.59 L1495.08,144.21 L1497.64,142.83 L1500.20,141.45 L1502.76,140.07 L1505.33,138.69 L1507.89,137.31 L1510.45,135.92 L1513.01,134.54 L1515.57,133.16 L1518.13,131.78 L1520.69,130.40 L1523.25,129.02 L1525.82,127.63 L1528.38,126.25 L1530.94,124.87 L1533.50,123.48 L1536.06,122.10 L1538.62,120.71 L1541.18,119.33 L1543.74,117.94 L1546.31,116.56 L1548.87,115.17 L1551.43,113.79 L1553.99,112.40 L1556.55,111.01 L1559.11,109.63 L1561.67,108.24 L1564.23,106.85 L1566.80,105.47 L1569.36,104.08 L1571.92,102.69 L1574.48,101.30 L1577.04,99.91 L1579.60,98.52 L1582.16,97.13 L1584.72,95.74 L1587.29,94.35 L1589.85,92.96 L1592.41,91.57 L1594.97,90.18 L1597.53,88.79 L1600.09,87.40 L1602.65,86.01 L1605.22,84.61 L1607.78,83.22 L1610.34,81.83 L1612.90,80.44 L1615.46,79.04 L1618.02,77.65"/>
<path stroke="#ff00ff" d="M275.41,1086.88 L275.43,1085.63 L275.45,1084.36 L275.47,1083.06 L275.49,1081.74 L275.51,1080.41 L275.53,1079.05 L275.55,1077.66 L275.57,1076.26 L275.59,1074.84 L275.61,1073.40 L275.64,1071.94 L275.66,1070.47 L275.68,1068.97 L275.70,1067.46 L275.72,1065.93 L275.75,1064.39 L275.77,1062.83 L275.79,1061.26 L275.81,1059.67 L275.84,1058.07 L275.86,1056.46 L275.88,1054.83 L275.91,1053.19 L275.93,1051.54 L275.95,1049.88 L275.98,1048.21 L276.00,1046.53 L276.03,1044.84 L276.05,1043.14 L276.08,1041.43 L276.10,1039.71 L276.13,1037.99 L276.15,1036.26 L276.18,1034.52 L276.21,1032.78 L276.23,1031.04 L276.26,1029.29 L276.28,1027.53 L276.31,1025.77 L276.34,1024.01 L276.37,1022.25 L276.39,1020.49 L276.42,1018.72 L276.45,1016.95 L276.48,1015.19 L276.51,1013.42 L276.54,1011.66 L276.56,1009.89 L276.59,1008.13 L276.62,1006.37 L276.65,1004.61 L276.68,1002.86 L276.71,1001.11 L276.74,999.37 L276.78,997.63 L276.81,995.90 L276.84,994.17 L276.87,992.45 L276.90,990.74 L276.93,989.04 L276.97,987.34 L277.00,985.66 L277.03,983.98 L277.07,982.31 L277.10,980.66 L277.13,979.01 L277.17,977.38 L277.20,975.76 L277.24,974.15 L277.27,972.56 L277.31,970.98 L277.34,969.41 L277.38,967.85 L277.41,966.31 L277.45,964.78 L277.49,963.26 L277.52,961.75 L277.56,960.25 L277.60,958.77 L277.64,957.30 L277.68,955.84 L277.72,954.39 L277.75,952.95 L277.79,951.52 L277.83,950.10 L277.87,948.70 L277.91,947.30 L277.95,945.92 L278.00,944.54 L278.04,943.17 L278.08,941.82 L278.12,940.47 L278.16,939.13 L278.21,937.81 L278.25,936.49 L278.29,935.18 L278.34,933.88 L278.38,932.59 L278.43,931.30 L278.47,930.03 L278.52,928.76 L278.56,927.50 L278.61,926.25 L278.66,925.01 L278.70,923.77 L278.75,922.54 L278.80,921.32 L278.85,920.11 L278.90,918.90 L278.94,917.70 L278.99,916.50 L279.04,915.32 L279.09,914.13 L279.14,912.96 L279.20,911.79 L279.25,910.63 L279.30,909.47 L279.35,908.32 L279.40,907.17 L279.46,906.03 L279.51,904.89 L279.57,903.76 L279.62,902.63 L279.68,901.51 L279.73,900.39 L279.79,899.28 L279.84,898.17 L279.90,897.06 L279.96,895.96 L280.02,894.86 L280.08,893.76 L280.14,892.67 L280.19,891.58 L280.26,890.50 L280.32,889.41 L280.38,888.33 L280.44,887.25 L280.50,886.18 L280.56,885.10 L280.63,884.03 L280.69,882.96 L280.75,881.90 L280.82,880.83 L280.88,879.77 L280.95,878.71 L281.02,877.65 L281.08,876.60 L281.15,875.55 L281.22,874.50 L281.29,873.45 L281.36,872.41 L281.43,871.37 L281.50,870.33 L281.57,869.29 L281.64,868.26 L281.71,867.23 L281.79,866.20 L281.86,865.18 L281.93,864.16 L282.01,863.14 L282.08,862.12 L282.16,861.11 L282.24,860.10 L282.31,859.09 L282.39,858.09 L282.47,857.09 L282.55,856.09 L282.63,855.09 L282.71,854.10 L282.79,853.11 L282.87,852.13 L282.96,851.14 L283.04,850.17 L283.13,849.19 L283.21,848.22 L283.30,847.25 L283.38,846.28 L283.47,845.32 L283.56,844.36 L283.65,843.40 L283.73,842.45 L283.82,841.50 L283.92,840.56 L284.01,839.62 L284.10,838.68 L284.19,837.74 L284.29,836.81 L284.38,835.88 L284.48,834.96 L284.57,834.04 L284.67,833.12 L284.77,832.21 L284.87,831.30 L284.97,830.40 L285.07,829.49 L285.17,828.60 L285.27,827.70 L285.37,826.81 L285.48,825.93 L285.58,825.05 L285.69,824.17 L285.80,823.29 L285.90,822.42 L286.01,821.56 L286.12,820.70 L286.23,819.84 L286.34,818.98 L286.45,818.13 L286.57,817.29 L286.68,816.45 L286.80,815.61 L286.91,814.78 L287.03,813.95 L287.15,813.12 L287.27,812.30 L287.39,811.48 L287.51,810.66 L287.63,809.85 L287.75,809.04 L287.88,808.24 L288.00,807.44 L288.13,806.64 L288.25,805.85 L288.38,805.06 L288.51,804.27 L288.64,803.49 L288.77,802.71 L288.91,801.93 L289.04,801.16 L289.18,800.39 L289.31,799.62 L289.45,798.85 L289.59,798.09 L289.73,797.33 L289.87,796.58 L290.01,795.83 L290.15,795.08 L290.30,794.33 L290.44,793.59 L290.59,792.84 L290.74,792.11 L290.89,791.37 L291.04,790.64 L291.19,789.91 L291.34,789.18 L291.50,788.45 L291.65,787.73 L291.81,787.01 L291.97,786.29 L292.13,785.57 L292.29,784.86 L292.45,784.15 L292.62,783.44 L292.78,782.73 L292.95,782.03 L293.12,781.32 L293.29,780.62 L293.46,779.92 L293.63,779.23 L293.80,778.53 L293.98,777.84 L294.16,777.15 L294.33,776.46 L294.51,775.77 L294.69,775.08 L294.88,774.40 L295.06,773.72 L295.25,773.04 L295.44,772.36 L295.62,771.68 L295.82,771.00 L296.01,770.33 L296.20,769.65 L296.40,768.98 L296.59,768.31 L296.79,767.64 L296.99,766.97 L297.20,766.30 L297.40,765.64 L297.61,764.97 L297.81,764.31 L298.02,763.65 L298.23,762.99 L298.45,762.33 L298.66,761.67 L298.88,761.01 L299.10,760.36 L299.32,759.71 L299.54,759.05 L299.76,758.40 L299.99,757.76 L300.22,757.11 L300.45,756.46 L300.68,755.82 L300.91,755.18 L301.15,754.54 L301.38,753.90 L301.62,753.27 L301.86,752.63 L302.11,752.00 L302.35,751.37 L302.60,750.74 L302.85,750.11 L303.10,749.49 L303.36,748.86 L303.61,748.24 L303.87,747.62 L304.13,747.00 L304.40,746.39 L304.66,745.77 L304.93,745.16 L305.20,744.55 L305.47,743.94 L305.74,743.34 L306.02,742.74 L306.30,742.13 L306.58,741.53 L306.86,740.94 L307.15,740.34 L307.44,739.75 L307.73,739.16 L308.02,738.57 L308.32,737.99 L308.62,737.40 L308.92,736.82 L309.22,736.24 L309.52,735.66 L309.83,735.09 L310.14,734.52 L310.46,733.95 L310.77,733.38 L311.09,732.82 L311.42,732.25 L311.74,731.69 L312.07,731.14 L312.40,730.58 L312.73,730.03 L313.07,729.48 L313.40,728.93 L313.74,728.39 L314.09,727.84 L314.44,727.30 L314.79,726.77 L315.14,726.23 L315.50,725.70 L315.85,725.17 L316.22,724.64 L316.58,724.12 L316.95,723.60 L317.32,723.08 L317.70,722.56 L318.07,722.05 L318.45,721.53 L318.84,721.02 L319.23,720.52 L319.62,720.01 L320.01,719.51 L320.41,719.01 L320.81,718.51 L321.21,718.01 L321.62,717.51 L322.03,717.02 L322.44,716.53 L322.86,716.04 L323.28,715.55 L323.71,715.07 L324.14,714.58 L324.57,714.10 L325.00,713.62 L325.44,713.14 L325.89,712.66 L326.33,712.19 L326.79,711.71 L327.24,711.24 L327.70,710.77 L328.16,710.30 L328.63,709.83 L329.10,709.36 L329.57,708.90 L330.05,708.43 L330.53,707.97 L331.02,707.51 L331.51,707.05 L332.00,706.59 L332.50,706.13 L333.00,705.67 L333.51,705.22 L334.02,704.76 L334.54,704.31 L335.06,703.86 L335.58,703.40 L336.11,702.95 L336.65,702.50 L337.19,702.05 L337.73,701.60 L338.28,701.15 L338.83,700.70 L339.38,700.26 L339.95,699.81 L342.51,697.82 L345.07,695.91 L347.63,694.07 L350.19,692.29 L352.75,690.56 L355.31,688.90 L357.87,687.28 L360.44,685.71 L363.00,684.18 L365.56,682.70 L368.12,681.26 L370.68,679.85 L373.24,678.48 L375.80,677.15 L378.36,675.84 L380.93,674.57 L383.49,673.32 L386.05,672.11 L388.61,670.91 L391.17,669.75 L393.73,668.60 L396.29,667.48 L398.85,666.38 L401.42,665.30 L403.98,664.24 L406.54,663.20 L409.10,662.17 L411.66,661.16 L414.22,660.17 L416.78,659.19 L419.34,658.21 L421.91,657.25 L424.47,656.30 L427.03,655.35 L429.59,654.41 L432.15,653.48 L434.71,652.55 L437.27,651.63 L439.83,650.71 L442.40,649.79 L444.96,648.88 L447.52,647.97 L450.08,647.06 L452.64,646.15 L455.20,645.24 L457.76,644.33 L460.32,643.42 L462.89,642.52 L465.45,641.61 L468.01,640.70 L470.57,639.79 L473.13,638.88 L475.69,637.96 L478.25,637.05 L480.82,636.13 L483.38,635.21 L485.94,634.28 L488.50,633.36 L491.06,632.43 L493.62,631.50 L496.18,630.57 L498.74,629.63 L501.31,628.69 L503.87,627.75 L506.43,626.80 L508.99,625.85 L511.55,624.90 L514.11,623.95 L516.67,622.99 L519.23,622.02 L521.80,621.06 L524.36,620.09 L526.92,619.11 L529.48,618.14 L532.04,617.16 L534.60,616.17 L537.16,615.18 L539.72,614.19 L542.29,613.20 L544.85,612.20 L547.41,611.20 L549.97,610.20 L552.53,609.19 L555.09,608.18 L557.65,607.16 L560.21,606.15 L562.78,605.12 L565.34,604.10 L567.90,603.07 L570.46,602.04 L573.02,601.01 L575.58,599.97 L578.14,598.93 L580.70,597.89 L583.27,596.84 L585.83,595.79 L588.39,594.74 L590.95,593.68 L593.51,592.62 L596.07,591.56 L598.63,590.49 L601.20,589.42 L603.76,588.35 L606.32,587.28 L608.88,586.20 L611.44,585.12 L614.00,584.03 L616.56,582.95 L619.12,581.86 L621.69,580.77 L624.25,579.67 L626.81,578.57 L629.37,577.47 L631.93,576.37 L634.49,575.26 L637.05,574.15 L639.61,573.04 L642.18,571.93 L644.74,570.81 L647.30,569.69 L649.86,568.57 L652.42,567.44 L654.98,566.31 L657.54,565.18 L660.10,564.05 L662.67,562.91 L665.23,561.78 L667.79,560.64 L670.35,559.49 L672.91,558.35 L675.47,557.20 L678.03,556.05 L680.59,554.90 L683.16,553.74 L685.72,552.58 L688.28,551.42 L690.84,550.26 L693.40,549.09 L695.96,547.93 L698.52,546.76 L701.08,545.59 L703.65,544.41 L706.21,543.24 L708.77,542.06 L711.33,540.88 L713.89,539.69 L716.45,538.51 L719.01,537.32 L721.58,536.14 L724.14,534.95 L726.70,533.75 L729.26,532.56 L731.82,531.36 L734.38,530.17 L736.94,528.97 L739.50,527.77 L742.07,526.56 L744.63,525.36 L747.19,524.15 L749.75,522.95 L752.31,521.74 L754.87,520.53 L757.43,519.31 L759.99,518.10 L762.56,516.89 L765.12,515.67 L767.68,514.45 L770.24,513.23 L772.80,512.01 L775.36,510.79 L777.92,509.57 L780.48,508.34 L783.05,507.12 L785.61,505.89 L788.17,504.66 L790.73,503.43 L793.29,502.20 L795.85,500.97 L798.41,499.73 L800.97,498.50 L803.54,497.26 L806.10,496.03 L808.66,494.79 L811.22,493.55 L813.78,492.31 L816.34,491.07 L818.90,489.83 L821.46,488.58 L824.03,487.34 L826.59,486.09 L829.15,484.85 L831.71,483.60 L834.27,482.35 L836.83,481.10 L839.39,479.85 L841.95,478.60 L844.52,477.35 L847.08,476.10 L849.64,474.84 L852.20,473.59 L854.76,472.33 L857.32,471.07 L859.88,469.82 L862.45,468.56 L865.01,467.30 L867.57,466.04 L870.13,464.78 L872.69,463.52 L875.25,462.26 L877.81,460.99 L880.37,459.73 L882.94,458.46 L885.50,457.20 L888.06,455.93 L890.62,454.66 L893.18,453.40 L895.74,452.13 L898.30,450.86 L900.86,449.59 L903.43,448.32 L905.99,447.05 L908.55,445.78 L911.11,444.50 L913.67,443.23 L916.23,441.96 L918.79,440.68 L921.35,439.41 L923.92,438.13 L926.48,436.85 L929.04,435.58 L931.60,434.30 L934.16,433.02 L936.72,431.74 L939.28,430.46 L941.84,429.18 L944.41,427.90 L946.97,426.62 L949.53,425.34 L952.09,424.05 L954.65,422.77 L957.21,421.49 L959.77,420.20 L962.33,418.92 L964.90,417.63 L967.46,416.34 L970.02,415.06 L972.58,413.77 L975.14,412.48 L977.70,411.19 L980.26,409.91 L982.83,408.62 L985.39,407.33 L987.95,406.04 L990.51,404.75 L993.07,403.45 L995.63,402.16 L998.19,400.87 L1000.75,399.58 L1003.32,398.28 L1005.88,396.99 L1008.44,395.69 L1011.00,394.40 L1013.56,393.10 L1016.12,391.81 L1018.68,390.51 L1021.24,389.22 L1023.81,387.92 L1026.37,386.62 L1028.93,385.32 L1031.49,384.02 L1034.05,382.72 L1036.61,381.42 L1039.17,380.12 L1041.73,378.82 L1044.30,377.52 L1046.86,376.22 L1049.42,374.92 L1051.98,373.62 L1054.54,372.31 L1057.10,371.01 L1059.66,369.71 L1062.22,368.40 L1064.79,367.10 L1067.35,365.79 L1069.91,364.49 L1072.47,363.18 L1075.03,361.88 L1077.59,360.57 L1080.15,359.26 L1082.71,357.95 L1085.28,356.64 L1087.84,355.34 L1090.40,354.03 L1092.96,352.72 L1095.52,351.41 L1098.08,350.10 L1100.64,348.79 L1103.21,347.47 L1105.77,346.16 L1108.33,344.85 L1110.89,343.54 L1113.45,342.23 L1116.01,340.91 L1118.57,339.60 L1121.13,338.28 L1123.70,336.97 L1126.26,335.65 L1128.82,334.34 L1131.38,333.02 L1133.94,331.71 L1136.50,330.39 L1139.06,329.07 L1141.62,327.75 L1144.19,326.43 L1146.75,325.12 L1149.31,323.80 L1151.87,322.48 L1154.43,321.16 L1156.99,319.84 L1159.55,318.52 L1162.11,317.20 L1164.68,315.87 L1167.24,314.55 L1169.80,313.23 L1172.36,311.91 L1174.92,310.58 L1177.48,309.26 L1180.04,307.94 L1182.60,306.61 L1185.17,305.29 L1187.73,303.96 L1190.29,302.64 L1192.85,301.31 L1195.41,299.98 L1197.97,298.66 L1200.53,297.33 L1203.09,296.00 L1205.66,294.67 L1208.22,293.34 L1210.78,292.01 L1213.34,290.69 L1215.90,289.36 L1218.46,288.03 L1221.02,286.69 L1223.58,285.36 L1226.15,284.03 L1228.71,282.70 L1231.27,281.37 L1233.83,280.04 L1236.39,278.70 L1238.95,277.37 L1241.51,276.04 L1244.08,274.70 L1246.64,273.37 L1249.20,272.03 L1251.76,270.70 L1254.32,269.36 L1256.88,268.02 L1259.44,266.69 L1262.00,265.35 L1264.57,264.01 L1267.13,262.68 L1269.69,261.34 L1272.25,260.00 L1274.81,258.66 L1277.37,257.32 L1279.93,255.98 L1282.49,254.64 L1285.06,253.30 L1287.62,251.96 L1290.18,250.62 L1292.74,249.28 L1295.30,247.94 L1297.86,246.59 L1300.42,245.25 L1302.98,243.91 L1305.55,242.56 L1308.11,241.22 L1310.67,239.88 L1313.23,238.53 L1315.79,237.19 L1318.35,235.84 L1320.91,234.50 L1323.47,233.15 L1326.04,231.80 L1328.60,230.46 L1331.16,229.11 L1333.72,227.76 L1336.28,226.41 L1338.84,225.07 L1341.40,223.72 L1343.96,222.37 L1346.53,221.02 L1349.09,219.67 L1351.65,218.32 L1354.21,216.97 L1356.77,215.62 L1359.33,214.27 L1361.89,212.91 L1364.46,211.56 L1367.02,210.21 L1369.58,208.86 L1372.14,207.50 L1374.70,206.15 L1377.26,204.80 L1379.82,203.44 L1382.38,202.09 L1384.95,200.73 L1387.51,199.38 L1390.07,198.02 L1392.63,196.67 L1395.19,195.31 L1397.75,193.95 L1400.31,192.60 L1402.87,191.24 L1405.44,189.88 L1408.00,188.52 L1410.56,187.17 L1413.12,185.81 L1415.68,184.45 L1418.24,183.09 L1420.80,181.73 L1423.36,180.37 L1425.93,179.01 L1428.49,177.65 L1431.05,176.29 L1433.61,174.92 L1436.17,173.56 L1438.73,172.20 L1441.29,170.84 L1443.85,169.48 L1446.42,168.11 L1448.98,166.75 L1451.54,165.38 L1454.10,164.02 L1456.66,162.66 L1459.22,161.29 L1461.78,159.93 L1464.34,158.56 L1466.91,157.19 L1469.47,155.83 L1472.03,154.46 L1474.59,153.10 L1477.15,151.73 L1479.71,150.36 L1482.27,148.99 L1484.84,147.62 L1487.40,146.26 L1489.96,144.89 L1492.52,143.52 L1495.08,142.15 L1497.64,140.78 L1500.20,139.41 L1502.76,138.04 L1505.33,136.67 L1507.89,135.30 L1510.45,133.92 L1513.01,132.55 L1515.57,131.18 L1518.13,129.81 L1520.69,128.43 L1523.25,127.06 L1525.82,125.69 L1528.38,124.31 L1530.94,122.94 L1533.50,121.57 L1536.06,120.19 L1538.62,118.82 L1541.18,117.44 L1543.74,116.07 L1546.31,114.69 L1548.87,113.31 L1551.43,111.94 L1553.99,110.56 L1556.55,109.18 L1559.11,107.81 L1561.67,106.43 L1564.23,105.05 L1566.80,103.67 L1569.36,102.29 L1571.92,100.91 L1574.48,99.53 L1577.04,98.15 L1579.60,96.77 L1582.16,95.39 L1584.72,94.01 L1587.29,92.63 L1589.85,91.25 L1592.41,89.87 L1594.97,88.49 L1597.53,87.11 L1600.09,85.72 L1602.65,84.34 L1605.22,82.96 L1607.78,81.57 L1610.34,80.19 L1612.90,78.81 L1615.46,77.42 L1618.02,76.04"/>
<path stroke="#ff8000" d="M275.91,1176.52 L275.93,1174.97 L275.95,1173.41 L275.98,1171.86 L276.00,1170.30 L276.02,1168.73 L276.04,1167.17 L276.07,1165.61 L276.09,1164.04 L276.12,1162.48 L276.14,1160.91 L276.16,1159.34 L276.19,1157.77 L276.21,1156.20 L276.24,1154.63 L276.26,1153.06 L276.29,1151.49 L276.31,1149.92 L276.34,1148.35 L276.36,1146.77 L276.39,1145.20 L276.42,1143.63 L276.44,1142.06 L276.47,1140.49 L276.50,1138.92 L276.52,1137.35 L276.55,1135.78 L276.58,1134.22 L276.61,1132.65 L276.63,1131.08 L276.66,1129.52 L276.69,1127.96 L276.72,1126.40 L276.75,1124.84 L276.78,1123.28 L276.81,1121.72 L276.84,1120.17 L276.87,1118.61 L276.90,1117.06 L276.93,1115.51 L276.96,1113.97 L276.99,1112.42 L277.02,1110.88 L277.05,1109.34 L277.08,1107.81 L277.11,1106.28 L277.15,1104.74 L277.18,1103.22 L277.21,1101.69 L277.24,1100.17 L277.28,1098.66 L277.31,1097.14 L277.34,1095.63 L277.38,1094.13 L277.41,1092.62 L277.45,1091.12 L277.48,1089.63 L277.52,1088.14 L277.55,1086.65 L277.59,1085.17 L277.62,1083.69 L277.66,1082.22 L277.69,1080.75 L277.73,1079.29 L277.77,1077.83 L277.81,1076.38 L277.84,1074.93 L277.88,1073.49 L277.92,1072.05 L277.96,1070.62 L278.00,1069.19 L278.04,1067.77 L278.07,1066.36 L278.11,1064.95 L278.15,1063.54 L278.19,1062.15 L278.24,1060.76 L278.28,1059.37 L278.32,1057.99 L278.36,1056.62 L278.40,1055.26 L278.44,1053.90 L278.49,1052.55 L278.53,1051.21 L278.57,1049.87 L278.62,1048.54 L278.66,1047.22 L278.70,1045.90 L278.75,1044.59 L278.79,1043.29 L278.84,1042.00 L278.89,1040.72 L278.93,1039.44 L278.98,1038.17 L279.02,1036.91 L279.07,1035.66 L279.12,1034.42 L279.17,1033.18 L279.22,1031.95 L279.26,1030.73 L279.31,1029.51 L279.36,1028.30 L279.41,1027.10 L279.46,1025.91 L279.51,1024.72 L279.57,1023.54 L279.62,1022.37 L279.67,1021.20 L279.72,1020.04 L279.77,1018.88 L279.83,1017.73 L279.88,1016.59 L279.94,1015.45 L279.99,1014.32 L280.05,1013.19 L280.10,1012.07 L280.16,1010.95 L280.21,1009.84 L280.27,1008.74 L280.33,1007.64 L280.38,1006.54 L280.44,1005.45 L280.50,1004.36 L280.56,1003.28 L280.62,1002.20 L280.68,1001.13 L280.74,1000.06 L280.80,998.99 L280.86,997.93 L280.92,996.87 L280.99,995.82 L281.05,994.76 L281.11,993.72 L281.18,992.67 L281.24,991.63 L281.31,990.59 L281.37,989.55 L281.44,988.52 L281.50,987.49 L281.57,986.46 L281.64,985.44 L281.71,984.41 L281.78,983.39 L281.84,982.37 L281.91,981.35 L281.98,980.34 L282.06,979.32 L282.13,978.31 L282.20,977.30 L282.27,976.29 L282.34,975.28 L282.42,974.27 L282.49,973.27 L282.57,972.26 L282.64,971.25 L282.72,970.25 L282.80,969.24 L282.87,968.24 L282.95,967.23 L283.03,966.23 L283.11,965.23 L283.19,964.22 L283.27,963.22 L283.35,962.21 L283.43,961.21 L283.51,960.20 L283.60,959.20 L283.68,958.19 L283.77,957.18 L283.85,956.18 L283.94,955.17 L284.02,954.17 L284.11,953.16 L284.20,952.16 L284.29,951.15 L284.38,950.15 L284.47,949.15 L284.56,948.14 L284.65,947.14 L284.74,946.14 L284.83,945.13 L284.93,944.13 L285.02,943.13 L285.12,942.13 L285.21,941.13 L285.31,940.13 L285.41,939.13 L285.50,938.13 L285.60,937.14 L285.70,936.14 L285.80,935.14 L285.90,934.15 L286.01,933.15 L286.11,932.16 L286.21,931.17 L286.32,930.18 L286.42,929.19 L286.53,928.20 L286.64,927.21 L286.74,926.22 L286.85,925.24 L286.96,924.25 L287.07,923.27 L287.19,922.29 L287.30,921.31 L287.41,920.33 L287.53,919.35 L287.64,918.38 L287.76,917.40 L287.87,916.43 L287.99,915.46 L288.11,914.49 L288.23,913.52 L288.35,912.55 L288.47,911.59 L288.59,910.62 L288.72,909.66 L288.84,908.70 L288.97,907.74 L289.09,906.79 L289.22,905.83 L289.35,904.88 L289.48,903.93 L289.61,902.98 L289.74,902.04 L289.88,901.09 L290.01,900.15 L290.14,899.21 L290.28,898.28 L290.42,897.34 L290.56,896.41 L290.69,895.48 L290.84,894.55 L290.98,893.62 L291.12,892.70 L291.26,891.78 L291.41,890.86 L291.55,889.94 L291.70,889.03 L291.85,888.11 L292.00,887.20 L292.15,886.29 L292.30,885.39 L292.45,884.48 L292.61,883.58 L292.76,882.68 L292.92,881.78 L293.08,880.89 L293.24,879.99 L293.40,879.10 L293.56,878.21 L293.73,877.32 L293.89,876.44 L294.06,875.55 L294.22,874.67 L294.39,873.79 L294.56,872.92 L294.73,872.04 L294.90,871.17 L295.08,870.29 L295.25,869.42 L295.43,868.56 L295.61,867.69 L295.79,866.83 L295.97,865.96 L296.15,865.10 L296.34,864.25 L296.52,863.39 L296.71,862.53 L296.90,861.68 L297.09,860.83 L297.28,859.98 L297.47,859.13 L297.66,858.29 L297.86,857.44 L298.06,856.60 L298.26,855.76 L298.46,854.92 L298.66,854.08 L298.86,853.25 L299.07,852.41 L299.28,851.58 L299.49,850.75 L299.70,849.92 L299.91,849.09 L300.12,848.27 L300.34,847.44 L300.55,846.62 L300.77,845.80 L300.99,844.98 L301.22,844.16 L301.44,843.35 L301.67,842.53 L301.89,841.72 L302.12,840.90 L302.36,840.09 L302.59,839.29 L302.82,838.48 L303.06,837.67 L303.30,836.87 L303.54,836.06 L303.78,835.26 L304.03,834.46 L304.28,833.66 L304.52,832.86 L304.78,832.07 L305.03,831.27 L305.28,830.48 L305.54,829.68 L305.80,828.89 L306.06,828.10 L306.32,827.31 L306.59,826.52 L306.85,825.74 L307.12,824.95 L307.39,824.16 L307.67,823.38 L307.94,822.60 L308.22,821.82 L308.50,821.03 L308.78,820.25 L309.07,819.47 L309.36,818.70 L309.65,817.92 L309.94,817.14 L310.23,816.37 L310.53,815.59 L310.83,814.82 L311.13,814.04 L311.43,813.27 L311.74,812.50 L312.04,811.73 L312.35,810.96 L312.67,810.19 L312.98,809.42 L313.30,808.65 L313.62,807.88 L313.94,807.11 L314.27,806.35 L314.60,805.58 L314.93,804.81 L315.26,804.05 L315.60,803.28 L315.94,802.52 L316.28,801.75 L316.63,800.99 L316.97,800.22 L317.32,799.46 L317.68,798.70 L318.03,797.94 L318.39,797.17 L318.75,796.41 L319.11,795.65 L319.48,794.89 L319.85,794.12 L320.22,793.36 L320.60,792.60 L320.98,791.84 L321.36,791.08 L321.75,790.31 L322.13,789.55 L322.53,788.79 L322.92,788.03 L323.32,787.27 L323.72,786.50 L324.12,785.74 L324.53,784.98 L324.94,784.22 L325.35,783.45 L325.77,782.69 L326.19,781.93 L326.61,781.17 L327.04,780.40 L327.47,779.64 L327.90,778.88 L328.34,778.11 L328.78,777.35 L329.23,776.59 L329.67,775.83 L330.12,775.06 L330.58,774.30 L331.04,773.54 L331.50,772.78 L331.97,772.02 L332.44,771.26 L332.91,770.50 L333.39,769.74 L333.87,768.98 L334.35,768.22 L334.84,767.46 L335.33,766.70 L335.83,765.95 L336.33,765.19 L336.83,764.44 L337.34,763.68 L337.85,762.93 L338.37,762.17 L338.89,761.42 L339.42,760.67 L339.95,759.92 L342.51,756.38 L345.07,752.99 L347.63,749.74 L350.19,746.62 L352.75,743.63 L355.31,740.76 L357.87,738.01 L360.44,735.36 L363.00,732.81 L365.56,730.35 L368.12,727.99 L370.68,725.70 L373.24,723.48 L375.80,721.34 L378.36,719.25 L380.93,717.23 L383.49,715.25 L386.05,713.33 L388.61,711.46 L391.17,709.62 L393.73,707.83 L396.29,706.08 L398.85,704.36 L401.42,702.68 L403.98,701.02 L406.54,699.40 L409.10,697.80 L411.66,696.22 L414.22,694.68 L416.78,693.15 L419.34,691.64 L421.91,690.16 L424.47,688.69 L427.03,687.24 L429.59,685.81 L432.15,684.39 L434.71,682.99 L437.27,681.60 L439.83,680.22 L442.40,678.85 L444.96,677.50 L447.52,676.16 L450.08,674.82 L452.64,673.50 L455.20,672.18 L457.76,670.87 L460.32,669.57 L462.89,668.28 L465.45,666.99 L468.01,665.71 L470.57,664.44 L473.13,663.17 L475.69,661.90 L478.25,660.64 L480.82,659.39 L483.38,658.14 L485.94,656.89 L488.50,655.65 L491.06,654.41 L493.62,653.17 L496.18,651.94 L498.74,650.70 L501.31,649.47 L503.87,648.25 L506.43,647.02 L508.99,645.80 L511.55,644.58 L514.11,643.36 L516.67,642.14 L519.23,640.93 L521.80,639.71 L524.36,638.50 L526.92,637.28 L529.48,636.07 L532.04,634.86 L534.60,633.65 L537.16,632.44 L539.72,631.23 L542.29,630.02 L544.85,628.81 L547.41,627.60 L549.97,626.39 L552.53,625.18 L555.09,623.97 L557.65,622.76 L560.21,621.55 L562.78,620.34 L565.34,619.14 L567.90,617.93 L570.46,616.72 L573.02,615.51 L575.58,614.30 L578.14,613.09 L580.70,611.88 L583.27,610.67 L585.83,609.46 L588.39,608.25 L590.95,607.03 L593.51,605.82 L596.07,604.61 L598.63,603.40 L601.20,602.18 L603.76,600.97 L606.32,599.75 L608.88,598.54 L611.44,597.32 L614.00,596.10 L616.56,594.89 L619.12,593.67 L621.69,592.45 L624.25,591.23 L626.81,590.01 L629.37,588.79 L631.93,587.57 L634.49,586.35 L637.05,585.12 L639.61,583.90 L642.18,582.67 L644.74,581.45 L647.30,580.22 L649.86,579.00 L652.42,577.77 L654.98,576.54 L657.54,575.31 L660.10,574.08 L662.67,572.85 L665.23,571.62 L667.79,570.38 L670.35,569.15 L672.91,567.92 L675.47,566.68 L678.03,565.44 L680.59,564.21 L683.16,562.97 L685.72,561.73 L688.28,560.49 L690.84,559.25 L693.40,558.01 L695.96,556.76 L698.52,555.52 L701.08,554.28 L703.65,553.03 L706.21,551.79 L708.77,550.54 L711.33,549.29 L713.89,548.04 L716.45,546.79 L719.01,545.54 L721.58,544.29 L724.14,543.04 L726.70,541.78 L729.26,540.53 L731.82,539.27 L734.38,538.02 L736.94,536.76 L739.50,535.50 L742.07,534.24 L744.63,532.98 L747.19,531.72 L749.75,530.46 L752.31,529.20 L754.87,527.94 L757.43,526.67 L759.99,525.41 L762.56,524.15 L765.12,522.88 L767.68,521.61 L770.24,520.35 L772.80,519.08 L775.36,517.81 L777.92,516.54 L780.48,515.27 L783.05,514.00 L785.61,512.73 L788.17,511.45 L790.73,510.18 L793.29,508.91 L795.85,507.63 L798.41,506.36 L800.97,505.08 L803.54,503.81 L806.10,502.53 L808.66,501.25 L811.22,499.97 L813.78,498.69 L816.34,497.41 L818.90,496.13 L821.46,494.85 L824.03,493.57 L826.59,492.29 L829.15,491.01 L831.71,489.72 L834.27,488.44 L836.83,487.16 L839.39,485.87 L841.95,484.59 L844.52,483.30 L847.08,482.01 L849.64,480.73 L852.20,479.44 L854.76,478.15 L857.32,476.86 L859.88,475.57 L862.45,474.28 L865.01,472.99 L867.57,471.70 L870.13,470.41 L872.69,469.12 L875.25,467.83 L877.81,466.53 L880.37,465.24 L882.94,463.95 L885.50,462.65 L888.06,461.36 L890.62,460.06 L893.18,458.77 L895.74,457.47 L898.30,456.17 L900.86,454.88 L903.43,453.58 L905.99,452.28 L908.55,450.98 L911.11,449.68 L913.67,448.38 L916.23,447.08 L918.79,445.78 L921.35,444.48 L923.92,443.18 L926.48,441.88 L929.04,440.57 L931.60,439.27 L934.16,437.97 L936.72,436.66 L939.28,435.36 L941.84,434.06 L944.41,432.75 L946.97,431.45 L949.53,430.14 L952.09,428.83 L954.65,427.53 L957.21,426.22 L959.77,424.91 L962.33,423.60 L964.90,422.29 L967.46,420.98 L970.02,419.68 L972.58,418.37 L975.14,417.06 L977.70,415.74 L980.26,414.43 L982.83,413.12 L985.39,411.81 L987.95,410.50 L990.51,409.19 L993.07,407.87 L995.63,406.56 L998.19,405.24 L1000.75,403.93 L1003.32,402.62 L1005.88,401.30 L1008.44,399.98 L1011.00,398.67 L1013.56,397.35 L1016.12,396.04 L1018.68,394.72 L1021.24,393.40 L1023.81,392.08 L1026.37,390.76 L1028.93,389.45 L1031.49,388.13 L1034.05,386.81 L1036.61,385.49 L1039.17,384.17 L1041.73,382.85 L1044.30,381.53 L1046.86,380.20 L1049.42,378.88 L1051.98,377.56 L1054.54,376.24 L1057.10,374.92 L1059.66,373.59 L1062.22,372.27 L1064.79,370.94 L1067.35,369.62 L1069.91,368.30 L1072.47,366.97 L1075.03,365.64 L1077.59,364.32 L1080.15,362.99 L1082.71,361.67 L1085.28,360.34 L1087.84,359.01 L1090.40,357.68 L1092.96,356.36 L1095.52,355.03 L1098.08,353.70 L1100.64,352.37 L1103.21,351.04 L1105.77,349.71 L1108.33,348.38 L1110.89,347.05 L1113.45,345.72 L1116.01,344.39 L1118.57,343.06 L1121.13,341.72 L1123.70,340.39 L1126.26,339.06 L1128.82,337.72 L1131.38,336.39 L1133.94,335.06 L1136.50,333.72 L1139.06,332.39 L1141.62,331.05 L1144.19,329.72 L1146.75,328.38 L1149.31,327.05 L1151.87,325.71 L1154.43,324.37 L1156.99,323.04 L1159.55,321.70 L1162.11,320.36 L1164.68,319.02 L1167.24,317.68 L1169.80,316.34 L1172.36,315.00 L1174.92,313.66 L1177.48,312.32 L1180.04,310.98 L1182.60,309.64 L1185.17,308.30 L1187.73,306.96 L1190.29,305.62 L1192.85,304.28 L1195.41,302.93 L1197.97,301.59 L1200.53,300.25 L1203.09,298.90 L1205.66,297.56 L1208.22,296.22 L1210.78,294.87 L1213.34,293.53 L1215.90,292.18 L1218.46,290.83 L1221.02,289.49 L1223.58,288.14 L1226.15,286.80 L1228.71,285.45 L1231.27,284.10 L1233.83,282.75 L1236.39,281.40 L1238.95,280.06 L1241.51,278.71 L1244.08,277.36 L1246.64,276.01 L1249.20,274.66 L1251.76,273.31 L1254.32,271.96 L1256.88,270.61 L1259.44,269.26 L1262.00,267.90 L1264.57,266.55 L1267.13,265.20 L1269.69,263.85 L1272.25,262.49 L1274.81,261.14 L1277.37,259.79 L1279.93,258.43 L1282.49,257.08 L1285.06,255.72 L1287.62,254.37 L1290.18,253.01 L1292.74,251.66 L1295.30,250.30 L1297.86,248.94 L1300.42,247.59 L1302.98,246.23 L1305.55,244.87 L1308.11,243.51 L1310.67,242.16 L1313.23,240.80 L1315.79,239.44 L1318.35,238.08 L1320.91,236.72 L1323.47,235.36 L1326.04,234.00 L1328.60,232.64 L1331.16,231.28 L1333.72,229.92 L1336.28,228.56 L1338.84,227.20 L1341.40,225.83 L1343.96,224.47 L1346.53,223.11 L1349.09,221.74 L1351.65,220.38 L1354.21,219.02 L1356.77,217.65 L1359.33,216.29 L1361.89,214.92 L1364.46,213.56 L1367.02,212.19 L1369.58,210.83 L1372.14,209.46 L1374.70,208.10 L1377.26,206.73 L1379.82,205.36 L1382.38,203.99 L1384.95,202.63 L1387.51,201.26 L1390.07,199.89 L1392.63,198.52 L1395.19,197.15 L1397.75,195.78 L1400.31,194.41 L1402.87,193.04 L1405.44,191.67 L1408.00,190.30 L1410.56,188.93 L1413.12,187.56 L1415.68,186.19 L1418.24,184.82 L1420.80,183.45 L1423.36,182.07 L1425.93,180.70 L1428.49,179.33 L1431.05,177.95 L1433.61,176.58 L1436.17,175.21 L1438.73,173.83 L1441.29,172.46 L1443.85,171.08 L1446.42,169.71 L1448.98,168.33 L1451.54,166.96 L1454.10,165.58 L1456.66,164.20 L1459.22,162.83 L1461.78,161.45 L1464.34,160.07 L1466.91,158.69 L1469.47,157.32 L1472.03,155.94 L1474.59,154.56 L1477.15,153.18 L1479.71,151.80 L1482.27,150.42 L1484.84,149.04 L1487.40,147.66 L1489.96,146.28 L1492.52,144.90 L1495.08,143.52 L1497.64,142.14 L1500.20,140.76 L1502.76,139.37 L1505.33,137.99 L1507.89,136.61 L1510.45,135.23 L1513.01,133.84 L1515.57,132.46 L1518.13,131.08 L1520.69,129.69 L1523.25,128.31 L1525.82,126.92 L1528.38,125.54 L1530.94,124.15 L1533.50,122.77 L1536.06,121.38 L1538.62,120.00 L1541.18,118.61 L1543.74,117.22 L1546.31,115.84 L1548.87,114.45 L1551.43,113.06 L1553.99,111.67 L1556.55,110.29 L1559.11,108.90 L1561.67,107.51 L1564.23,106.12 L1566.80,104.73 L1569.36,103.34 L1571.92,101.95 L1574.48,100.56 L1577.04,99.17 L1579.60,97.78 L1582.16,96.39 L1584.72,95.00 L1587.29,93.61 L1589.85,92.21 L1592.41,90.82 L1594.97,89.43 L1597.53,88.04 L1600.09,86.64 L1602.65,85.25 L1605.22,83.86 L1607.78,82.46 L1610.34,81.07 L1612.90,79.68 L1615.46,78.28 L1618.02,76.89"/>
<path stroke="#000000" d="M274.03,754.21 L274.04,754.21 L274.05,754.21 L274.06,754.20 L274.07,754.20 L274.08,754.19 L274.09,754.19 L274.10,754.18 L274.11,754.18 L274.12,754.17 L274.13,754.17 L274.15,754.16 L274.16,754.16 L274.17,754.15 L274.18,754.15 L274.19,754.14 L274.20,754.14 L274.21,754.13 L274.23,754.13 L274.24,754.12 L274.25,754.11 L274.26,754.11 L274.28,754.10 L274.29,754.10 L274.30,754.09 L274.31,754.09 L274.33,754.08 L274.34,754.07 L274.35,754.07 L274.37,754.06 L274.38,754.06 L274.40,754.05 L274.41,754.04 L274.42,754.04 L274.44,754.03 L274.45,754.02 L274.47,754.02 L274.48,754.01 L274.50,754.00 L274.51,754.00 L274.53,753.99 L274.54,753.98 L274.56,753.98 L274.57,753.97 L274.59,753.96 L274.60,753.96 L274.62,753.95 L274.64,753.94 L274.65,753.93 L274.67,753.93 L274.69,753.92 L274.70,753.91 L274.72,753.90 L274.74,753.90 L274.76,753.89 L274.78,753.88 L274.79,753.87 L274.81,753.86 L274.83,753.85 L274.85,753.85 L274.87,753.84 L274.89,753.83 L274.91,753.82 L274.93,753.81 L274.94,753.80 L274.96,753.79 L274.98,753.79 L275.01,753.78 L275.03,753.77 L275.05,753.76 L275.07,753.75 L275.09,753.74 L275.11,753.73 L275.13,753.72 L275.15,753.71 L275.18,753.70 L275.20,753.69 L275.22,753.68 L275.24,753.67 L275.27,753.66 L275.29,753.65 L275.31,753.64 L275.34,753.63 L275.36,753.62 L275.39,753.60 L275.41,753.59 L275.44,753.58 L275.46,753.57 L275.49,753.56 L275.51,753.55 L275.54,753.54 L275.56,753.52 L275.59,753.51 L275.62,753.50 L275.64,753.49 L275.67,753.48 L275.70,753.46 L275.73,753.45 L275.76,753.44 L275.78,753.43 L275.81,753.41 L275.84,753.40 L275.87,753.39 L275.90,753.37 L275.93,753.36 L275.96,753.35 L275.99,753.33 L276.02,753.32 L276.06,753.30 L276.09,753.29 L276.12,753.27 L276.15,753.26 L276.19,753.25 L276.22,753.23 L276.25,753.22 L276.29,753.20 L276.32,753.18 L276.36,753.17 L276.39,753.15 L276.43,753.14 L276.46,753.12 L276.50,753.10 L276.53,753.09 L276.57,753.07 L276.61,753.05 L276.65,753.04 L276.69,753.02 L276.72,753.00 L276.76,752.99 L276.80,752.97 L276.84,752.95 L276.88,752.93 L276.92,752.91 L276.96,752.90 L277.01,752.88 L277.05,752.86 L277.09,752.84 L277.13,752.82 L277.18,752.80 L277.22,752.78 L277.27,752.76 L277.31,752.74 L277.36,752.72 L277.40,752.70 L277.45,752.68 L277.49,752.66 L277.54,752.64 L277.59,752.61 L277.64,752.59 L277.69,752.57 L277.74,752.55 L277.79,752.53 L277.84,752.50 L277.89,752.48 L277.94,752.46 L277.99,752.43 L278.04,752.41 L278.10,752.39 L278.15,752.36 L278.21,752.34 L278.26,752.31 L278.32,752.29 L278.37,752.26 L278.43,752.24 L278.49,752.21 L278.55,752.18 L278.60,752.16 L278.66,752.13 L278.72,752.10 L278.78,752.08 L278.84,752.05 L278.91,752.02 L278.97,751.99 L279.03,751.96 L279.10,751.94 L279.16,751.91 L279.23,751.88 L279.29,751.85 L279.36,751.82 L279.43,751.79 L279.49,751.76 L279.56,751.73 L279.63,751.69 L279.70,751.66 L279.77,751.63 L279.85,751.60 L279.92,751.57 L279.99,751.53 L280.07,751.50 L280.14,751.47 L280.22,751.43 L280.29,751.40 L280.37,751.36 L280.45,751.33 L280.53,751.29 L280.61,751.25 L280.69,751.22 L280.77,751.18 L280.86,751.14 L280.94,751.11 L281.02,751.07 L281.11,751.03 L281.19,750.99 L281.28,750.95 L281.37,750.91 L281.46,750.87 L281.55,750.83 L281.64,750.79 L281.73,750.75 L281.83,750.71 L281.92,750.67 L282.01,750.62 L282.11,750.58 L282.21,750.54 L282.31,750.49 L282.40,750.45 L282.51,750.40 L282.61,750.36 L282.71,750.31 L282.81,750.26 L282.92,750.22 L283.02,750.17 L283.13,750.12 L283.24,750.07 L283.35,750.02 L283.46,749.97 L283.57,749.92 L283.68,749.87 L283.80,749.82 L283.91,749.77 L284.03,749.72 L284.15,749.66 L284.26,749.61 L284.38,749.56 L284.51,749.50 L284.63,749.45 L284.75,749.39 L284.88,749.33 L285.01,749.28 L285.13,749.22 L285.26,749.16 L285.39,749.10 L285.53,749.04 L285.66,748.98 L285.80,748.92 L285.93,748.86 L286.07,748.80 L286.21,748.73 L286.35,748.67 L286.50,748.60 L286.64,748.54 L286.79,748.47 L286.93,748.41 L287.08,748.34 L287.23,748.27 L287.38,748.20 L287.54,748.13 L287.69,748.06 L287.85,747.99 L288.01,747.92 L288.17,747.85 L288.33,747.78 L288.50,747.70 L288.66,747.63 L288.83,747.55 L289.00,747.47 L289.17,747.40 L289.35,747.32 L289.52,747.24 L289.70,747.16 L289.88,747.08 L290.06,747.00 L290.24,746.92 L290.42,746.83 L290.61,746.75 L290.80,746.66 L290.99,746.58 L291.18,746.49 L291.38,746.40 L291.57,746.31 L291.77,746.22 L291.97,746.13 L292.18,746.04 L292.38,745.95 L292.59,745.86 L292.80,745.76 L293.01,745.66 L293.23,745.57 L293.45,745.47 L293.66,745.37 L293.89,745.27 L294.11,745.17 L294.34,745.07 L294.57,744.96 L294.80,744.86 L295.03,744.75 L295.27,744.65 L295.51,744.54 L295.75,744.43 L295.99,744.32 L296.24,744.21 L296.49,744.10 L296.74,743.98 L296.99,743.87 L297.25,743.75 L297.51,743.63 L297.77,743.52 L298.04,743.40 L298.31,743.27 L298.58,743.15 L298.85,743.03 L299.13,742.90 L299.41,742.78 L299.70,742.65 L299.98,742.52 L300.27,742.39 L300.56,742.25 L300.86,742.12 L301.16,741.99 L301.46,741.85 L301.77,741.71 L302.08,741.57 L302.39,741.43 L302.70,741.29 L303.02,741.14 L303.35,741.00 L303.67,740.85 L304.00,740.70 L304.33,740.55 L304.67,740.40 L305.01,740.24 L305.35,740.09 L305.70,739.93 L306.05,739.77 L306.41,739.61 L306.77,739.45 L307.13,739.29 L307.50,739.12 L307.87,738.95 L308.24,738.78 L308.62,738.61 L309.00,738.44 L309.39,738.26 L309.78,738.08 L310.18,737.91 L310.58,737.73 L310.98,737.54 L311.39,737.36 L311.80,737.17 L312.22,736.98 L312.64,736.79 L313.06,736.60 L313.49,736.40 L313.93,736.21 L314.37,736.01 L314.81,735.80 L315.26,735.60 L315.72,735.39 L316.18,735.19 L316.64,734.98 L317.11,734.76 L317.58,734.55 L318.06,734.33 L318.55,734.11 L319.04,733.89 L319.53,733.66 L320.03,733.44 L320.54,733.21 L321.05,732.98 L321.57,732.74 L322.09,732.50 L322.62,732.26 L323.15,732.02 L323.69,731.78 L324.23,731.53 L324.79,731.28 L325.34,731.03 L325.91,730.77 L326.47,730.51 L327.05,730.25 L327.63,729.99 L328.22,729.72 L328.81,729.45 L329.41,729.18 L330.02,728.90 L330.63,728.62 L331.25,728.34 L331.88,728.05 L332.51,727.77 L333.15,727.48 L333.80,727.18 L334.45,726.88 L335.11,726.58 L335.78,726.28 L336.46,725.97 L337.14,725.66 L337.83,725.35 L338.53,725.03 L339.23,724.71 L339.95,724.38 L342.51,723.21 L345.07,722.05 L347.63,720.88 L350.19,719.71 L352.75,718.54 L355.31,717.37 L357.87,716.20 L360.44,715.02 L363.00,713.85 L365.56,712.68 L368.12,711.51 L370.68,710.33 L373.24,709.16 L375.80,707.98 L378.36,706.81 L380.93,705.63 L383.49,704.45 L386.05,703.27 L388.61,702.10 L391.17,700.92 L393.73,699.74 L396.29,698.56 L398.85,697.38 L401.42,696.19 L403.98,695.01 L406.54,693.83 L409.10,692.65 L411.66,691.46 L414.22,690.28 L416.78,689.09 L419.34,687.91 L421.91,686.72 L424.47,685.53 L427.03,684.35 L429.59,683.16 L432.15,681.97 L434.71,680.78 L437.27,679.59 L439.83,678.40 L442.40,677.21 L444.96,676.02 L447.52,674.83 L450.08,673.63 L452.64,672.44 L455.20,671.25 L457.76,670.05 L460.32,668.86 L462.89,667.66 L465.45,666.46 L468.01,665.27 L470.57,664.07 L473.13,662.87 L475.69,661.67 L478.25,660.47 L480.82,659.27 L483.38,658.07 L485.94,656.87 L488.50,655.67 L491.06,654.47 L493.62,653.27 L496.18,652.06 L498.74,650.86 L501.31,649.66 L503.87,648.45 L506.43,647.25 L508.99,646.04 L511.55,644.83 L514.11,643.63 L516.67,642.42 L519.23,641.21 L521.80,640.00 L524.36,638.79 L526.92,637.58 L529.48,636.37 L532.04,635.16 L534.60,633.95 L537.16,632.74 L539.72,631.52 L542.29,630.31 L544.85,629.09 L547.41,627.88 L549.97,626.67 L552.53,625.45 L555.09,624.23 L557.65,623.02 L560.21,621.80 L562.78,620.58 L565.34,619.36 L567.90,618.14 L570.46,616.92 L573.02,615.70 L575.58,614.48 L578.14,613.26 L580.70,612.04 L583.27,610.82 L585.83,609.59 L588.39,608.37 L590.95,607.15 L593.51,605.92 L596.07,604.70 L598.63,603.47 L601.20,602.24 L603.76,601.02 L606.32,599.79 L608.88,598.56 L611.44,597.33 L614.00,596.11 L616.56,594.88 L619.12,593.65 L621.69,592.41 L624.25,591.18 L626.81,589.95 L629.37,588.72 L631.93,587.49 L634.49,586.25 L637.05,585.02 L639.61,583.79 L642.18,582.55 L644.74,581.31 L647.30,580.08 L649.86,578.84 L652.42,577.60 L654.98,576.37 L657.54,575.13 L660.10,573.89 L662.67,572.65 L665.23,571.41 L667.79,570.17 L670.35,568.93 L672.91,567.69 L675.47,566.45 L678.03,565.20 L680.59,563.96 L683.16,562.72 L685.72,561.47 L688.28,560.23 L690.84,558.98 L693.40,557.74 L695.96,556.49 L698.52,555.24 L701.08,554.00 L703.65,552.75 L706.21,551.50 L708.77,550.25 L711.33,549.00 L713.89,547.75 L716.45,546.50 L719.01,545.25 L721.58,544.00 L724.14,542.75 L726.70,541.50 L729.26,540.24 L731.82,538.99 L734.38,537.74 L736.94,536.48 L739.50,535.23 L742.07,533.97 L744.63,532.71 L747.19,531.46 L749.75,530.20 L752.31,528.94 L754.87,527.69 L757.43,526.43 L759.99,525.17 L762.56,523.91 L765.12,522.65 L767.68,521.39 L770.24,520.13 L772.80,518.86 L775.36,517.60 L777.92,516.34 L780.48,515.08 L783.05,513.81 L785.61,512.55 L788.17,511.28 L790.73,510.02 L793.29,508.75 L795.85,507.49 L798.41,506.22 L800.97,504.95 L803.54,503.68 L806.10,502.42 L808.66,501.15 L811.22,499.88 L813.78,498.61 L816.34,497.34 L818.90,496.07 L821.46,494.80 L824.03,493.53 L826.59,492.25 L829.15,490.98 L831.71,489.71 L834.27,488.43 L836.83,487.16 L839.39,485.88 L841.95,484.61 L844.52,483.33 L847.08,482.06 L849.64,480.78 L852.20,479.50 L854.76,478.23 L857.32,476.95 L859.88,475.67 L862.45,474.39 L865.01,473.11 L867.57,471.83 L870.13,470.55 L872.69,469.27 L875.25,467.99 L877.81,466.71 L880.37,465.42 L882.94,464.14 L885.50,462.86 L888.06,461.57 L890.62,460.29 L893.18,459.00 L895.74,457.72 L898.30,456.43 L900.86,455.15 L903.43,453.86 L905.99,452.57 L908.55,451.29 L911.11,450.00 L913.67,448.71 L916.23,447.42 L918.79,446.13 L921.35,444.84 L923.92,443.55 L926.48,442.26 L929.04,440.97 L931.60,439.68 L934.16,438.38 L936.72,437.09 L939.28,435.80 L941.84,434.50 L944.41,433.21 L946.97,431.91 L949.53,430.62 L952.09,429.32 L954.65,428.03 L957.21,426.73 L959.77,425.43 L962.33,424.14 L964.90,422.84 L967.46,421.54 L970.02,420.24 L972.58,418.94 L975.14,417.64 L977.70,416.34 L980.26,415.04 L982.83,413.74 L985.39,412.44 L987.95,411.14 L990.51,409.83 L993.07,408.53 L995.63,407.23 L998.19,405.92 L1000.75,404.62 L1003.32,403.31 L1005.88,402.01 L1008.44,400.70 L1011.00,399.40 L1013.56,398.09 L1016.12,396.78 L1018.68,395.48 L1021.24,394.17 L1023.81,392.86 L1026.37,391.55 L1028.93,390.24 L1031.49,388.93 L1034.05,387.62 L1036.61,386.31 L1039.17,385.00 L1041.73,383.69 L1044.30,382.38 L1046.86,381.07 L1049.42,379.75 L1051.98,378.44 L1054.54,377.13 L1057.10,375.81 L1059.66,374.50 L1062.22,373.18 L1064.79,371.87 L1067.35,370.55 L1069.91,369.24 L1072.47,367.92 L1075.03,366.60 L1077.59,365.28 L1080.15,363.97 L1082.71,362.65 L1085.28,361.33 L1087.84,360.01 L1090.40,358.69 L1092.96,357.37 L1095.52,356.05 L1098.08,354.73 L1100.64,353.41 L1103.21,352.09 L1105.77,350.76 L1108.33,349.44 L1110.89,348.12 L1113.45,346.79 L1116.01,345.47 L1118.57,344.15 L1121.13,342.82 L1123.70,341.50 L1126.26,340.17 L1128.82,338.84 L1131.38,337.52 L1133.94,336.19 L1136.50,334.86 L1139.06,333.54 L1141.62,332.21 L1144.19,330.88 L1146.75,329.55 L1149.31,328.22 L1151.87,326.89 L1154.43,325.56 L1156.99,324.23 L1159.55,322.90 L1162.11,321.57 L1164.68,320.24 L1167.24,318.90 L1169.80,317.57 L1172.36,316.24 L1174.92,314.90 L1177.48,313.57 L1180.04,312.24 L1182.60,310.90 L1185.17,309.57 L1187.73,308.23 L1190.29,306.90 L1192.85,305.56 L1195.41,304.22 L1197.97,302.89 L1200.53,301.55 L1203.09,300.21 L1205.66,298.87 L1208.22,297.53 L1210.78,296.19 L1213.34,294.85 L1215.90,293.51 L1218.46,292.17 L1221.02,290.83 L1223.58,289.49 L1226.15,288.15 L1228.71,286.81 L1231.27,285.47 L1233.83,284.12 L1236.39,282.78 L1238.95,281.44 L1241.51,280.09 L1244.08,278.75 L1246.64,277.41 L1249.20,276.06 L1251.76,274.71 L1254.32,273.37 L1256.88,272.02 L1259.44,270.68 L1262.00,269.33 L1264.57,267.98 L1267.13,266.63 L1269.69,265.29 L1272.25,263.94 L1274.81,262.59 L1277.37,261.24 L1279.93,259.89 L1282.49,258.54 L1285.06,257.19 L1287.62,255.84 L1290.18,254.49 L1292.74,253.14 L1295.30,251.78 L1297.86,250.43 L1300.42,249.08 L1302.98,247.73 L1305.55,246.37 L1308.11,245.02 L1310.67,243.67 L1313.23,242.31 L1315.79,240.96 L1318.35,239.60 L1320.91,238.25 L1323.47,236.89 L1326.04,235.53 L1328.60,234.18 L1331.16,232.82 L1333.72,231.46 L1336.28,230.10 L1338.84,228.75 L1341.40,227.39 L1343.96,226.03 L1346.53,224.67 L1349.09,223.31 L1351.65,221.95 L1354.21,220.59 L1356.77,219.23 L1359.33,217.87 L1361.89,216.51 L1364.46,215.14 L1367.02,213.78 L1369.58,212.42 L1372.14,211.06 L1374.70,209.69 L1377.26,208.33 L1379.82,206.97 L1382.38,205.60 L1384.95,204.24 L1387.51,202.87 L1390.07,201.51 L1392.63,200.14 L1395.19,198.77 L1397.75,197.41 L1400.31,196.04 L1402.87,194.67 L1405.44,193.31 L1408.00,191.94 L1410.56,190.57 L1413.12,189.20 L1415.68,187.83 L1418.24,186.46 L1420.80,185.09 L1423.36,183.72 L1425.93,182.35 L1428.49,180.98 L1431.05,179.61 L1433.61,178.24 L1436.17,176.87 L1438.73,175.50 L1441.29,174.12 L1443.85,172.75 L1446.42,171.38 L1448.98,170.01 L1451.54,168.63 L1454.10,167.26 L1456.66,165.88 L1459.22,164.51 L1461.78,163.13 L1464.34,161.76 L1466.91,160.38 L1469.47,159.01 L1472.03,157.63 L1474.59,156.25 L1477.15,154.88 L1479.71,153.50 L1482.27,152.12 L1484.84,150.74 L1487.40,149.36 L1489.96,147.99 L1492.52,146.61 L1495.08,145.23 L1497.64,143.85 L1500.20,142.47 L1502.76,141.09 L1505.33,139.71 L1507.89,138.33 L1510.45,136.94 L1513.01,135.56 L1515.57,134.18 L1518.13,132.80 L1520.69,131.42 L1523.25,130.03 L1525.82,128.65 L1528.38,127.27 L1530.94,125.88 L1533.50,124.50 L1536.06,123.11 L1538.62,121.73 L1541.18,120.34 L1543.74,118.96 L1546.31,117.57 L1548.87,116.19 L1551.43,114.80 L1553.99,113.41 L1556.55,112.03 L1559.11,110.64 L1561.67,109.25 L1564.23,107.86 L1566.80,106.47 L1569.36,105.09 L1571.92,103.70 L1574.48,102.31 L1577.04,100.92 L1579.60,99.53 L1582.16,98.14 L1584.72,96.75 L1587.29,95.36 L1589.85,93.97 L1592.41,92.58 L1594.97,91.18 L1597.53,89.79 L1600.09,88.40 L1602.65,87.01 L1605.22,85.61 L1607.78,84.22 L1610.34,82.83 L1612.90,81.43 L1615.46,80.04 L1618.02,78.65"/>
</g>
<g id="inset-curves" clip-path="url(#ci)" fill="none" stroke-width="5.4" stroke-linecap="round" stroke-linejoin="round">
<path stroke="#ff0000" d="M862.29,576.80 L862.39,576.83 L862.49,576.85 L862.60,576.88 L862.70,576.91 L862.81,576.94 L862.92,576.96 L863.02,576.99 L863.13,577.02 L863.24,577.04 L863.36,577.07 L863.47,577.09 L863.58,577.12 L863.70,577.14 L863.82,577.17 L863.93,577.19 L864.05,577.22 L864.17,577.24 L864.30,577.26 L864.42,577.28 L864.54,577.31 L864.67,577.33 L864.80,577.35 L864.92,577.37 L865.05,577.39 L865.19,577.42 L865.32,577.44 L865.45,577.46 L865.59,577.48 L865.73,577.50 L865.86,577.52 L866.00,577.54 L866.15,577.56 L866.29,577.58 L866.43,577.60 L866.58,577.62 L866.73,577.64 L866.88,577.66 L867.03,577.67 L867.18,577.69 L867.34,577.71 L867.49,577.73 L867.65,577.75 L867.81,577.77 L867.97,577.78 L868.13,577.80 L868.30,577.82 L868.46,577.84 L868.63,577.86 L868.80,577.87 L868.98,577.89 L869.15,577.91 L869.32,577.93 L869.50,577.94 L869.68,577.96 L869.86,577.98 L870.05,578.00 L870.23,578.01 L870.42,578.03 L870.61,578.05 L870.80,578.06 L870.99,578.08 L871.19,578.10 L871.39,578.12 L871.59,578.13 L871.79,578.15 L871.99,578.17 L872.20,578.19 L872.41,578.20 L872.62,578.22 L872.83,578.24 L873.05,578.26 L873.27,578.28 L873.49,578.29 L873.71,578.31 L873.93,578.33 L874.16,578.35 L874.39,578.37 L874.62,578.38 L874.86,578.40 L875.09,578.42 L875.33,578.44 L875.58,578.46 L875.82,578.48 L876.07,578.50 L876.32,578.52 L876.57,578.54 L876.83,578.56 L877.09,578.58 L877.35,578.60 L877.61,578.62 L877.88,578.64 L878.15,578.66 L878.42,578.68 L878.70,578.70 L878.98,578.72 L879.26,578.74 L879.55,578.77 L879.83,578.79 L880.13,578.81 L880.42,578.83 L880.72,578.85 L881.02,578.88 L881.32,578.90 L881.63,578.92 L881.94,578.95 L882.25,578.97 L882.57,579.00 L882.89,579.02 L883.22,579.05 L883.54,579.07 L883.88,579.10 L884.21,579.12 L884.55,579.15 L884.89,579.18 L885.24,579.20 L885.59,579.23 L885.94,579.26 L886.30,579.28 L886.66,579.31 L887.02,579.34 L887.39,579.37 L887.76,579.40 L888.14,579.43 L888.52,579.46 L888.91,579.49 L889.30,579.52 L889.69,579.55 L890.09,579.58 L890.49,579.61 L890.90,579.65 L891.31,579.68 L891.72,579.71 L892.14,579.74 L892.57,579.78 L893.00,579.81 L893.43,579.85 L893.87,579.88 L894.31,579.92 L894.76,579.95 L895.21,579.99 L895.67,580.03 L896.13,580.06 L896.60,580.10 L897.07,580.14 L897.55,580.18 L898.03,580.22 L898.52,580.26 L899.01,580.30 L899.51,580.34 L900.01,580.38 L900.52,580.42 L901.04,580.46 L901.56,580.51 L902.08,580.55 L902.62,580.59 L903.15,580.64 L903.70,580.68 L904.25,580.72 L904.80,580.77 L905.36,580.82 L905.93,580.86 L906.50,580.91 L907.08,580.95 L907.67,581.00 L908.26,581.05 L908.86,581.10 L909.46,581.15 L910.07,581.19 L910.69,581.24 L911.32,581.29 L911.95,581.34 L912.59,581.39 L913.23,581.44 L913.88,581.49 L914.54,581.54 L915.21,581.59 L915.88,581.64 L916.57,581.70 L917.25,581.75 L917.95,581.80 L918.65,581.85 L919.36,581.90 L920.08,581.96 L920.81,582.01 L921.54,582.06 L922.28,582.11 L923.03,582.17 L923.79,582.22 L924.56,582.27 L925.33,582.33 L926.12,582.38 L926.91,582.43 L927.71,582.49 L928.52,582.54 L929.33,582.60 L930.16,582.65 L931.00,582.70 L931.84,582.76 L932.69,582.81 L933.56,582.86 L934.43,582.92 L935.31,582.97 L936.20,583.03 L937.10,583.08 L938.01,583.13 L938.93,583.19 L939.86,583.24 L940.80,583.29 L941.75,583.35 L942.71,583.40 L943.68,583.45 L944.67,583.51 L945.66,583.56 L946.66,583.61 L947.67,583.66 L948.70,583.72 L949.73,583.77 L950.78,583.82 L951.84,583.87 L952.91,583.92 L953.99,583.97 L955.08,584.02 L956.19,584.07 L957.30,584.12 L958.43,584.17 L959.57,584.22 L960.73,584.27 L961.89,584.32 L963.07,584.37 L964.26,584.42 L965.47,584.47 L966.68,584.52 L967.91,584.56 L969.16,584.61 L970.41,584.66 L971.68,584.70 L972.97,584.75 L974.27,584.80 L975.58,584.84 L976.90,584.89 L978.24,584.93 L979.60,584.98 L980.97,585.03 L982.35,585.07 L983.75,585.12 L985.17,585.16 L986.60,585.20 L988.04,585.25 L989.50,585.29 L990.98,585.34 L992.47,585.38 L993.98,585.43 L995.51,585.47 L997.05,585.51 L998.61,585.56 L1000.18,585.60 L1001.78,585.64 L1003.38,585.69 L1005.01,585.73 L1006.66,585.77 L1008.32,585.82 L1010.00,585.86 L1011.70,585.90 L1013.41,585.94 L1015.15,585.99 L1016.90,586.03 L1018.68,586.07 L1020.47,586.12 L1022.28,586.16 L1024.11,586.20 L1025.96,586.24 L1027.83,586.29 L1029.72,586.33 L1031.64,586.37 L1033.57,586.41 L1035.52,586.46 L1037.49,586.50 L1039.49,586.54 L1041.51,586.58 L1043.55,586.63 L1045.61,586.67 L1047.69,586.71 L1049.80,586.76 L1051.93,586.80 L1054.08,586.84 L1056.25,586.89 L1058.45,586.93 L1060.67,586.97 L1062.92,587.02 L1065.19,587.06 L1067.48,587.10 L1069.80,587.15 L1072.15,587.19 L1074.52,587.23 L1076.92,587.28 L1079.34,587.32 L1081.78,587.36 L1084.26,587.41 L1086.76,587.45 L1089.29,587.50 L1091.84,587.54 L1094.43,587.59 L1097.04,587.63 L1099.68,587.68 L1102.35,587.72 L1105.04,587.76 L1107.77,587.81 L1110.52,587.85 L1113.31,587.90 L1116.12,587.94 L1118.97,587.99 L1121.85,588.03 L1124.75,588.08 L1127.69,588.12 L1130.66,588.17 L1133.67,588.21 L1136.70,588.25 L1139.77,588.30 L1142.87,588.34 L1146.01,588.38 L1149.17,588.43 L1152.38,588.47 L1155.61,588.51 L1158.89,588.55 L1162.20,588.60 L1165.54,588.64 L1168.92,588.68 L1172.34,588.72 L1175.79,588.76 L1179.28,588.80 L1182.81,588.84 L1186.37,588.87 L1189.98,588.91 L1193.62,588.95 L1197.31,588.99 L1201.03,589.02 L1204.79,589.06 L1208.60,589.09 L1212.44,589.13 L1216.33,589.16 L1220.26,589.19 L1224.23,589.23 L1228.25,589.26 L1232.30,589.29 L1236.40,589.32 L1240.55,589.35 L1244.74,589.37 L1248.98,589.40 L1253.26,589.43 L1257.59,589.45 L1261.96,589.48 L1266.39,589.50 L1270.86,589.52 L1275.37,589.54 L1279.94,589.56 L1284.56,589.58 L1289.22,589.60 L1293.94,589.61 L1298.71,589.63 L1303.53,589.64 L1308.40,589.65 L1313.32,589.67 L1318.30,589.68 L1323.33,589.68 L1328.42,589.69 L1333.56,589.70 L1338.76,589.70 L1344.01,589.70 L1349.32,589.70 L1354.69,589.70 L1360.11,589.70 L1365.59,589.70 L1371.14,589.69 L1376.74,589.69 L1382.40,589.68 L1388.13,589.67 L1393.91,589.66 L1399.76,589.64 L1405.67,589.63 L1411.65,589.61 L1417.69,589.59 L1423.80,589.57 L1429.97,589.54 L1436.21,589.52 L1442.51,589.49 L1448.89,589.46 L1455.33,589.43 L1461.84,589.40 L1468.42,589.37 L1475.08,589.33 L1481.81,589.29 L1488.60,589.25 L1495.48,589.21 L1502.42,589.17 L1509.45,589.12 L1516.54,589.08 L1523.72,589.03 L1530.97,588.98 L1538.30,588.92 L1539.86,588.91 L1541.42,588.90 L1542.97,588.89 L1544.53,588.88 L1546.09,588.87 L1547.65,588.85 L1549.20,588.84 L1550.76,588.83 L1552.32,588.82 L1553.88,588.81 L1555.43,588.79"/>
<path stroke="#0000ff" d="M866.61,1074.12 L866.74,1072.56 L866.88,1071.01 L867.02,1069.48 L867.16,1067.95 L867.30,1066.44 L867.44,1064.94 L867.58,1063.45 L867.73,1061.97 L867.87,1060.51 L868.02,1059.06 L868.17,1057.61 L868.32,1056.18 L868.47,1054.76 L868.62,1053.36 L868.78,1051.96 L868.94,1050.57 L869.09,1049.20 L869.25,1047.83 L869.41,1046.47 L869.58,1045.13 L869.74,1043.79 L869.91,1042.47 L870.08,1041.15 L870.24,1039.85 L870.42,1038.55 L870.59,1037.26 L870.76,1035.99 L870.94,1034.72 L871.12,1033.46 L871.30,1032.21 L871.48,1030.97 L871.66,1029.73 L871.84,1028.51 L872.03,1027.29 L872.22,1026.08 L872.41,1024.88 L872.60,1023.69 L872.80,1022.50 L872.99,1021.33 L873.19,1020.16 L873.39,1018.99 L873.59,1017.84 L873.80,1016.69 L874.00,1015.55 L874.21,1014.41 L874.42,1013.29 L874.63,1012.16 L874.85,1011.05 L875.06,1009.94 L875.28,1008.84 L875.50,1007.74 L875.72,1006.65 L875.95,1005.56 L876.18,1004.49 L876.41,1003.41 L876.64,1002.34 L876.87,1001.28 L877.11,1000.22 L877.35,999.17 L877.59,998.12 L877.83,997.07 L878.08,996.03 L878.32,995.00 L878.57,993.97 L878.83,992.94 L879.08,991.92 L879.34,990.90 L879.60,989.88 L879.86,988.87 L880.13,987.86 L880.40,986.85 L880.67,985.85 L880.94,984.85 L881.22,983.86 L881.50,982.86 L881.78,981.87 L882.06,980.88 L882.35,979.90 L882.64,978.91 L882.93,977.93 L883.23,976.95 L883.53,975.97 L883.83,974.99 L884.14,974.02 L884.44,973.05 L884.75,972.07 L885.07,971.10 L885.39,970.13 L885.71,969.17 L886.03,968.20 L886.35,967.24 L886.68,966.28 L887.02,965.32 L887.35,964.36 L887.69,963.40 L888.04,962.44 L888.38,961.49 L888.73,960.54 L889.08,959.58 L889.44,958.64 L889.80,957.69 L890.16,956.74 L890.53,955.80 L890.90,954.85 L891.28,953.91 L891.66,952.97 L892.04,952.03 L892.42,951.09 L892.81,950.16 L893.21,949.22 L893.60,948.29 L894.00,947.36 L894.41,946.43 L894.82,945.50 L895.23,944.57 L895.65,943.65 L896.07,942.72 L896.49,941.80 L896.92,940.88 L897.36,939.96 L897.80,939.04 L898.24,938.12 L898.68,937.21 L899.14,936.29 L899.59,935.38 L900.05,934.47 L900.52,933.56 L900.98,932.65 L901.46,931.74 L901.94,930.83 L902.42,929.93 L902.91,929.02 L903.40,928.12 L903.90,927.22 L904.40,926.32 L904.91,925.42 L905.42,924.53 L905.94,923.63 L906.46,922.73 L906.99,921.84 L907.52,920.95 L908.06,920.06 L908.60,919.17 L909.15,918.28 L909.71,917.39 L910.27,916.51 L910.83,915.62 L911.40,914.74 L911.98,913.86 L912.56,912.98 L913.15,912.10 L913.74,911.22 L914.34,910.34 L914.95,909.46 L915.56,908.59 L916.18,907.71 L916.80,906.84 L917.43,905.97 L918.06,905.10 L918.71,904.23 L919.35,903.36 L920.01,902.49 L920.67,901.62 L921.34,900.76 L922.01,899.89 L922.69,899.03 L923.38,898.17 L924.08,897.31 L924.78,896.45 L925.48,895.59 L926.20,894.73 L926.92,893.87 L927.65,893.01 L928.39,892.16 L929.13,891.30 L929.88,890.45 L930.64,889.60 L931.41,888.74 L932.18,887.89 L932.96,887.04 L933.75,886.19 L934.55,885.35 L935.35,884.50 L936.16,883.65 L936.98,882.80 L937.81,881.96 L938.65,881.11 L939.49,880.27 L940.35,879.43 L941.21,878.59 L942.08,877.74 L942.96,876.90 L943.85,876.06 L944.74,875.23 L945.65,874.39 L946.56,873.55 L947.48,872.71 L948.42,871.88 L949.36,871.04 L950.31,870.20 L951.27,869.37 L952.24,868.54 L953.21,867.70 L954.20,866.87 L955.20,866.04 L956.21,865.21 L957.23,864.38 L958.25,863.55 L959.29,862.72 L960.34,861.89 L961.40,861.06 L962.47,860.23 L963.55,859.41 L964.64,858.58 L965.74,857.75 L966.85,856.93 L967.97,856.10 L969.11,855.28 L970.25,854.46 L971.41,853.64 L972.58,852.82 L973.76,852.00 L974.95,851.18 L976.15,850.36 L977.36,849.54 L978.59,848.72 L979.83,847.91 L981.08,847.09 L982.34,846.28 L983.62,845.47 L984.90,844.66 L986.20,843.85 L987.52,843.04 L988.84,842.23 L990.18,841.42 L991.54,840.61 L992.90,839.81 L994.28,839.00 L995.68,838.20 L997.08,837.40 L998.50,836.60 L999.94,835.80 L1001.39,835.00 L1002.85,834.20 L1004.33,833.41 L1005.82,832.61 L1007.32,831.82 L1008.85,831.03 L1010.38,830.24 L1011.93,829.45 L1013.50,828.66 L1015.08,827.87 L1016.68,827.08 L1018.30,826.30 L1019.93,825.52 L1021.57,824.74 L1023.23,823.96 L1024.91,823.18 L1026.61,822.40 L1028.32,821.63 L1030.05,820.85 L1031.79,820.08 L1033.55,819.31 L1035.33,818.54 L1037.13,817.77 L1038.95,817.00 L1040.78,816.24 L1042.63,815.48 L1044.50,814.72 L1046.39,813.96 L1048.29,813.20 L1050.22,812.44 L1052.16,811.68 L1054.13,810.93 L1056.11,810.18 L1058.11,809.43 L1060.13,808.68 L1062.18,807.93 L1064.24,807.18 L1066.32,806.44 L1068.42,805.70 L1070.55,804.95 L1072.69,804.21 L1074.86,803.47 L1077.04,802.73 L1079.25,802.00 L1081.48,801.26 L1083.73,800.53 L1086.01,799.79 L1088.30,799.06 L1090.62,798.33 L1092.97,797.60 L1095.33,796.87 L1097.72,796.14 L1100.13,795.41 L1102.57,794.69 L1105.03,793.96 L1107.51,793.24 L1110.02,792.51 L1112.55,791.79 L1115.11,791.07 L1117.70,790.35 L1120.30,789.63 L1122.94,788.91 L1125.60,788.19 L1128.29,787.47 L1131.00,786.76 L1133.74,786.04 L1136.51,785.33 L1139.30,784.61 L1142.12,783.90 L1144.97,783.18 L1147.85,782.47 L1150.76,781.76 L1153.69,781.04 L1156.66,780.33 L1159.65,779.62 L1162.67,778.91 L1165.72,778.20 L1168.81,777.49 L1171.92,776.78 L1175.06,776.07 L1178.23,775.36 L1181.44,774.65 L1184.68,773.94 L1187.95,773.24 L1191.25,772.53 L1194.58,771.82 L1197.95,771.11 L1201.35,770.40 L1204.78,769.70 L1208.25,768.99 L1211.75,768.28 L1215.28,767.57 L1218.85,766.86 L1222.46,766.16 L1226.10,765.45 L1229.78,764.74 L1233.49,764.03 L1237.24,763.32 L1241.03,762.61 L1244.85,761.91 L1248.71,761.20 L1252.61,760.49 L1256.55,759.78 L1260.53,759.07 L1264.55,758.36 L1268.60,757.65 L1272.70,756.94 L1276.83,756.22 L1281.01,755.51 L1285.23,754.80 L1289.49,754.09 L1293.79,753.37 L1298.13,752.66 L1302.52,751.94 L1306.95,751.23 L1311.43,750.51 L1315.94,749.80 L1320.51,749.08 L1325.11,748.36 L1329.77,747.64 L1334.46,746.92 L1339.21,746.20 L1344.00,745.48 L1348.84,744.76 L1353.72,744.04 L1358.66,743.31 L1363.64,742.59 L1368.67,741.86 L1373.76,741.13 L1378.89,740.41 L1384.07,739.68 L1389.30,738.95 L1394.59,738.21 L1399.93,737.48 L1405.32,736.75 L1410.76,736.01 L1416.26,735.28 L1421.81,734.54 L1427.41,733.80 L1433.07,733.06 L1438.79,732.32 L1444.56,731.57 L1450.39,730.83 L1456.28,730.08 L1462.22,729.34 L1468.23,728.59 L1474.29,727.83 L1480.41,727.08 L1486.59,726.33 L1492.84,725.57 L1499.14,724.81 L1505.51,724.05 L1511.94,723.29 L1518.43,722.53 L1524.99,721.76 L1531.61,721.00 L1538.30,720.23 L1539.86,720.05 L1541.42,719.87 L1542.97,719.70 L1544.53,719.52 L1546.09,719.34 L1547.65,719.17 L1549.20,718.99 L1550.76,718.81 L1552.32,718.64 L1553.88,718.46 L1555.43,718.29"/>
<path stroke="#00803c" d="M949.20,851.06 L949.67,850.72 L950.15,850.38 L950.63,850.03 L951.11,849.69 L951.60,849.35 L952.08,849.00 L952.57,848.66 L953.06,848.32 L953.56,847.97 L954.05,847.63 L954.55,847.29 L955.05,846.95 L955.56,846.60 L956.06,846.26 L956.57,845.92 L957.08,845.58 L957.60,845.24 L958.11,844.90 L958.63,844.55 L959.15,844.21 L959.68,843.87 L960.20,843.53 L960.73,843.19 L961.26,842.85 L961.80,842.51 L962.34,842.17 L962.88,841.83 L963.42,841.49 L963.96,841.15 L964.51,840.81 L965.06,840.47 L965.61,840.13 L966.17,839.79 L966.73,839.45 L967.29,839.11 L967.85,838.78 L968.42,838.44 L968.99,838.10 L969.56,837.76 L970.14,837.42 L970.72,837.08 L971.30,836.74 L971.88,836.41 L972.47,836.07 L973.06,835.73 L973.65,835.39 L974.24,835.05 L974.84,834.72 L975.44,834.38 L976.05,834.04 L976.66,833.70 L977.27,833.37 L977.88,833.03 L978.50,832.69 L979.11,832.36 L979.74,832.02 L980.36,831.68 L980.99,831.35 L981.62,831.01 L982.26,830.67 L982.89,830.34 L983.54,830.00 L984.18,829.66 L984.83,829.33 L985.48,828.99 L986.13,828.65 L986.79,828.32 L987.45,827.98 L988.11,827.64 L988.78,827.31 L989.45,826.97 L990.12,826.64 L990.80,826.30 L991.48,825.97 L992.16,825.63 L992.85,825.29 L993.54,824.96 L994.23,824.62 L994.93,824.29 L995.63,823.95 L996.33,823.62 L997.04,823.28 L997.75,822.94 L998.47,822.61 L999.18,822.27 L999.90,821.94 L1000.63,821.60 L1001.36,821.27 L1002.09,820.93 L1002.82,820.60 L1003.56,820.26 L1004.31,819.93 L1005.05,819.59 L1005.80,819.25 L1006.56,818.92 L1007.32,818.58 L1008.08,818.25 L1008.84,817.91 L1009.61,817.58 L1010.38,817.24 L1011.16,816.91 L1011.94,816.57 L1012.72,816.24 L1013.51,815.90 L1014.30,815.56 L1015.10,815.23 L1015.90,814.89 L1016.70,814.56 L1017.51,814.22 L1018.32,813.89 L1019.14,813.55 L1019.96,813.21 L1020.78,812.88 L1021.61,812.54 L1022.44,812.21 L1023.28,811.87 L1024.12,811.54 L1024.96,811.20 L1025.81,810.86 L1026.66,810.53 L1027.52,810.19 L1028.38,809.86 L1029.25,809.52 L1030.12,809.18 L1030.99,808.85 L1031.87,808.51 L1032.75,808.17 L1033.64,807.84 L1034.53,807.50 L1035.42,807.16 L1036.32,806.83 L1037.23,806.49 L1038.14,806.16 L1039.05,805.82 L1039.97,805.48 L1040.89,805.15 L1041.82,804.81 L1042.75,804.47 L1043.69,804.14 L1044.63,803.80 L1045.57,803.46 L1046.52,803.12 L1047.48,802.79 L1048.44,802.45 L1049.40,802.11 L1050.37,801.78 L1051.34,801.44 L1052.32,801.10 L1053.30,800.77 L1054.29,800.43 L1055.29,800.09 L1056.28,799.75 L1057.29,799.42 L1058.29,799.08 L1059.31,798.74 L1060.32,798.40 L1061.35,798.07 L1062.37,797.73 L1063.41,797.39 L1064.45,797.05 L1065.49,796.72 L1066.54,796.38 L1067.59,796.04 L1068.65,795.70 L1069.71,795.36 L1070.78,795.03 L1071.86,794.69 L1072.94,794.35 L1074.02,794.01 L1075.11,793.67 L1076.21,793.34 L1077.31,793.00 L1078.41,792.66 L1079.53,792.32 L1080.64,791.98 L1081.77,791.65 L1082.90,791.31 L1084.03,790.97 L1085.17,790.63 L1086.31,790.29 L1087.47,789.95 L1088.62,789.61 L1089.78,789.28 L1090.95,788.94 L1092.13,788.60 L1093.31,788.26 L1094.49,787.92 L1095.68,787.58 L1096.88,787.24 L1098.08,786.90 L1099.29,786.57 L1100.51,786.23 L1101.73,785.89 L1102.95,785.55 L1104.19,785.21 L1105.43,784.87 L1106.67,784.53 L1107.92,784.19 L1109.18,783.85 L1110.44,783.51 L1111.71,783.17 L1112.99,782.83 L1114.27,782.49 L1115.56,782.15 L1116.86,781.81 L1118.16,781.47 L1119.47,781.13 L1120.78,780.79 L1122.10,780.45 L1123.43,780.11 L1124.76,779.77 L1126.10,779.43 L1127.45,779.09 L1128.80,778.75 L1130.16,778.41 L1131.53,778.07 L1132.90,777.73 L1134.29,777.39 L1135.67,777.05 L1137.07,776.71 L1138.47,776.37 L1139.88,776.03 L1141.29,775.69 L1142.71,775.35 L1144.14,775.01 L1145.58,774.67 L1147.02,774.33 L1148.47,773.99 L1149.93,773.64 L1151.39,773.30 L1152.87,772.96 L1154.34,772.62 L1155.83,772.28 L1157.32,771.94 L1158.83,771.60 L1160.33,771.26 L1161.85,770.91 L1163.37,770.57 L1164.90,770.23 L1166.44,769.89 L1167.99,769.55 L1169.54,769.21 L1171.10,768.86 L1172.67,768.52 L1174.25,768.18 L1175.83,767.84 L1177.43,767.50 L1179.03,767.15 L1180.63,766.81 L1182.25,766.47 L1183.87,766.13 L1185.51,765.79 L1187.15,765.44 L1188.79,765.10 L1190.45,764.76 L1192.11,764.42 L1193.79,764.08 L1195.47,763.73 L1197.16,763.39 L1198.85,763.05 L1200.56,762.71 L1202.27,762.36 L1204.00,762.02 L1205.73,761.68 L1207.47,761.34 L1209.22,760.99 L1210.97,760.65 L1212.74,760.31 L1214.51,759.97 L1216.30,759.62 L1218.09,759.28 L1219.89,758.94 L1221.70,758.60 L1223.52,758.25 L1225.34,757.91 L1227.18,757.57 L1229.03,757.23 L1230.88,756.88 L1232.74,756.54 L1234.62,756.20 L1236.50,755.86 L1238.39,755.51 L1240.29,755.17 L1242.20,754.83 L1244.12,754.49 L1246.05,754.14 L1247.99,753.80 L1249.94,753.46 L1251.90,753.12 L1253.86,752.77 L1255.84,752.43 L1257.83,752.09 L1259.82,751.75 L1261.83,751.40 L1263.85,751.06 L1265.87,750.72 L1267.91,750.38 L1269.95,750.03 L1272.01,749.69 L1274.08,749.35 L1276.15,749.01 L1278.24,748.66 L1280.34,748.32 L1282.45,747.98 L1284.56,747.64 L1286.69,747.29 L1288.83,746.95 L1290.98,746.61 L1293.14,746.27 L1295.31,745.92 L1297.49,745.58 L1299.69,745.24 L1301.89,744.90 L1304.10,744.55 L1306.33,744.21 L1308.56,743.87 L1310.81,743.53 L1313.07,743.19 L1315.34,742.84 L1317.62,742.50 L1319.91,742.16 L1322.21,741.82 L1324.52,741.47 L1326.85,741.13 L1329.19,740.79 L1331.54,740.45 L1333.90,740.11 L1336.27,739.76 L1338.65,739.42 L1341.05,739.08 L1343.45,738.74 L1345.87,738.40 L1348.30,738.05 L1350.75,737.71 L1353.20,737.37 L1355.67,737.03 L1358.15,736.69 L1360.64,736.35 L1363.14,736.00 L1365.66,735.66 L1368.18,735.32 L1370.73,734.98 L1373.28,734.64 L1375.84,734.29 L1378.42,733.95 L1381.01,733.61 L1383.62,733.27 L1386.24,732.93 L1388.87,732.59 L1391.51,732.24 L1394.16,731.90 L1396.83,731.56 L1399.51,731.22 L1402.21,730.88 L1404.92,730.53 L1407.64,730.19 L1410.38,729.85 L1413.12,729.51 L1415.89,729.17 L1418.66,728.82 L1421.45,728.48 L1424.26,728.14 L1427.07,727.80 L1429.90,727.45 L1432.75,727.11 L1435.61,726.77 L1438.48,726.42 L1441.37,726.08 L1444.27,725.74 L1447.19,725.39 L1450.12,725.05 L1453.06,724.71 L1456.02,724.36 L1458.99,724.02 L1461.98,723.67 L1464.99,723.33 L1468.00,722.99 L1471.04,722.64 L1474.09,722.30 L1477.15,721.95 L1480.23,721.61 L1483.32,721.26 L1486.43,720.92 L1489.55,720.57 L1492.69,720.23 L1495.85,719.88 L1499.02,719.53 L1502.20,719.19 L1505.40,718.84 L1508.62,718.49 L1511.85,718.15 L1515.10,717.80 L1518.37,717.45 L1521.65,717.10 L1524.95,716.76 L1528.26,716.41 L1531.59,716.06 L1534.94,715.71 L1538.30,715.36 L1539.86,715.20 L1541.42,715.04 L1542.97,714.88 L1544.53,714.72 L1546.09,714.56 L1547.65,714.40 L1549.20,714.24 L1550.76,714.08 L1552.32,713.92 L1553.88,713.76 L1555.43,713.61"/>
<path stroke="#ff00ff" d="M876.60,998.06 L876.80,996.94 L877.00,995.79 L877.21,994.63 L877.41,993.45 L877.62,992.25 L877.83,991.02 L878.04,989.78 L878.26,988.53 L878.47,987.25 L878.69,985.96 L878.90,984.65 L879.12,983.32 L879.35,981.98 L879.57,980.62 L879.80,979.25 L880.02,977.86 L880.25,976.46 L880.49,975.05 L880.72,973.63 L880.96,972.19 L881.19,970.74 L881.43,969.28 L881.67,967.81 L881.92,966.32 L882.16,964.83 L882.41,963.33 L882.66,961.82 L882.91,960.30 L883.17,958.78 L883.42,957.24 L883.68,955.70 L883.94,954.15 L884.21,952.60 L884.47,951.04 L884.74,949.48 L885.01,947.91 L885.28,946.34 L885.55,944.76 L885.83,943.18 L886.11,941.60 L886.39,940.02 L886.67,938.43 L886.96,936.85 L887.25,935.26 L887.54,933.68 L887.83,932.09 L888.13,930.50 L888.43,928.92 L888.73,927.34 L889.03,925.76 L889.34,924.18 L889.64,922.61 L889.96,921.04 L890.27,919.47 L890.59,917.91 L890.91,916.35 L891.23,914.80 L891.55,913.26 L891.88,911.72 L892.21,910.19 L892.54,908.67 L892.88,907.16 L893.22,905.65 L893.56,904.15 L893.90,902.67 L894.25,901.19 L894.60,899.72 L894.95,898.27 L895.31,896.82 L895.67,895.39 L896.03,893.97 L896.40,892.56 L896.76,891.17 L897.13,889.78 L897.51,888.40 L897.89,887.04 L898.27,885.69 L898.65,884.34 L899.04,883.01 L899.43,881.69 L899.82,880.38 L900.22,879.07 L900.62,877.78 L901.03,876.50 L901.43,875.23 L901.85,873.96 L902.26,872.71 L902.68,871.47 L903.10,870.23 L903.52,869.00 L903.95,867.79 L904.39,866.58 L904.82,865.38 L905.26,864.18 L905.70,863.00 L906.15,861.82 L906.60,860.66 L907.06,859.49 L907.52,858.34 L907.98,857.20 L908.44,856.06 L908.91,854.93 L909.39,853.80 L909.87,852.69 L910.35,851.58 L910.84,850.47 L911.33,849.38 L911.82,848.29 L912.32,847.20 L912.82,846.12 L913.33,845.05 L913.84,843.99 L914.36,842.92 L914.88,841.87 L915.40,840.82 L915.93,839.77 L916.47,838.73 L917.01,837.70 L917.55,836.67 L918.10,835.64 L918.65,834.62 L919.20,833.61 L919.77,832.59 L920.33,831.59 L920.90,830.58 L921.48,829.58 L922.06,828.58 L922.65,827.59 L923.24,826.60 L923.83,825.61 L924.43,824.63 L925.04,823.65 L925.65,822.67 L926.27,821.70 L926.89,820.72 L927.51,819.75 L928.14,818.78 L928.78,817.82 L929.42,816.85 L930.07,815.89 L930.73,814.93 L931.38,813.97 L932.05,813.02 L932.72,812.06 L933.40,811.11 L934.08,810.16 L934.76,809.22 L935.46,808.27 L936.16,807.33 L936.86,806.39 L937.57,805.45 L938.29,804.52 L939.01,803.59 L939.74,802.66 L940.48,801.73 L941.22,800.80 L941.97,799.88 L942.72,798.96 L943.48,798.04 L944.25,797.13 L945.02,796.21 L945.80,795.30 L946.59,794.40 L947.38,793.49 L948.18,792.59 L948.99,791.69 L949.80,790.80 L950.62,789.90 L951.45,789.01 L952.29,788.12 L953.13,787.24 L953.98,786.36 L954.83,785.48 L955.70,784.60 L956.57,783.73 L957.44,782.86 L958.33,781.99 L959.22,781.12 L960.12,780.26 L961.03,779.40 L961.95,778.55 L962.87,777.70 L963.80,776.85 L964.74,776.00 L965.69,775.16 L966.64,774.32 L967.60,773.48 L968.58,772.65 L969.56,771.82 L970.54,771.00 L971.54,770.17 L972.54,769.35 L973.56,768.54 L974.58,767.72 L975.61,766.91 L976.65,766.11 L977.70,765.30 L978.75,764.51 L979.82,763.71 L980.89,762.92 L981.98,762.13 L983.07,761.34 L984.17,760.56 L985.28,759.79 L986.41,759.01 L987.54,758.24 L988.68,757.47 L989.83,756.71 L990.98,755.95 L992.15,755.20 L993.33,754.44 L994.52,753.69 L995.72,752.95 L996.93,752.21 L998.15,751.47 L999.38,750.73 L1000.62,750.00 L1001.87,749.27 L1003.13,748.55 L1004.41,747.83 L1005.69,747.11 L1006.98,746.39 L1008.29,745.68 L1009.60,744.97 L1010.93,744.26 L1012.27,743.56 L1013.62,742.86 L1014.98,742.16 L1016.35,741.46 L1017.74,740.77 L1019.13,740.08 L1020.54,739.40 L1021.96,738.71 L1023.39,738.03 L1024.83,737.35 L1026.29,736.68 L1027.76,736.00 L1029.24,735.33 L1030.73,734.66 L1032.24,734.00 L1033.76,733.34 L1035.29,732.67 L1036.83,732.02 L1038.39,731.36 L1039.96,730.71 L1041.54,730.05 L1043.14,729.40 L1044.75,728.76 L1046.38,728.11 L1048.02,727.47 L1049.67,726.83 L1051.33,726.19 L1053.01,725.55 L1054.71,724.92 L1056.42,724.28 L1058.14,723.65 L1059.88,723.02 L1061.63,722.40 L1063.40,721.77 L1065.18,721.15 L1066.98,720.52 L1068.79,719.90 L1070.62,719.28 L1072.46,718.67 L1074.32,718.05 L1076.20,717.44 L1078.09,716.82 L1080.00,716.21 L1081.92,715.60 L1083.86,714.99 L1085.81,714.38 L1087.79,713.78 L1089.78,713.17 L1091.78,712.57 L1093.80,711.96 L1095.84,711.36 L1097.90,710.76 L1099.98,710.16 L1102.07,709.56 L1104.18,708.97 L1106.31,708.37 L1108.45,707.78 L1110.62,707.18 L1112.80,706.59 L1115.00,706.00 L1117.22,705.41 L1119.46,704.83 L1121.71,704.24 L1123.99,703.65 L1126.29,703.07 L1128.60,702.49 L1130.94,701.91 L1133.29,701.33 L1135.66,700.75 L1138.06,700.17 L1140.47,699.60 L1142.91,699.03 L1145.36,698.46 L1147.84,697.89 L1150.34,697.32 L1152.86,696.75 L1155.40,696.19 L1157.96,695.62 L1160.54,695.06 L1163.15,694.50 L1165.77,693.94 L1168.42,693.39 L1171.10,692.83 L1173.79,692.28 L1176.51,691.73 L1179.25,691.18 L1182.01,690.63 L1184.80,690.08 L1187.61,689.54 L1190.44,689.00 L1193.30,688.46 L1196.18,687.92 L1199.09,687.38 L1202.02,686.85 L1204.98,686.32 L1207.96,685.79 L1210.97,685.26 L1214.00,684.73 L1217.06,684.21 L1220.14,683.69 L1223.25,683.17 L1226.39,682.65 L1229.55,682.13 L1232.74,681.62 L1235.95,681.11 L1239.20,680.60 L1242.47,680.09 L1245.77,679.59 L1249.09,679.08 L1252.45,678.58 L1255.83,678.08 L1259.24,677.59 L1262.69,677.09 L1266.16,676.60 L1269.65,676.11 L1273.18,675.63 L1276.74,675.14 L1280.33,674.66 L1283.95,674.18 L1287.60,673.70 L1291.28,673.23 L1294.99,672.75 L1298.74,672.28 L1302.51,671.81 L1306.32,671.35 L1310.16,670.88 L1314.03,670.42 L1317.94,669.96 L1321.88,669.50 L1325.85,669.04 L1329.85,668.59 L1333.89,668.14 L1337.96,667.69 L1342.07,667.24 L1346.21,666.79 L1350.39,666.35 L1354.60,665.90 L1358.85,665.46 L1363.14,665.02 L1367.46,664.59 L1371.81,664.15 L1376.21,663.71 L1380.64,663.28 L1385.11,662.85 L1389.61,662.42 L1394.16,661.99 L1398.74,661.56 L1403.36,661.14 L1408.03,660.71 L1412.73,660.29 L1417.47,659.87 L1422.25,659.45 L1427.07,659.03 L1431.93,658.61 L1436.83,658.19 L1441.78,657.78 L1446.77,657.36 L1451.79,656.95 L1456.87,656.54 L1461.98,656.13 L1467.14,655.72 L1472.34,655.31 L1477.59,654.90 L1482.87,654.49 L1488.21,654.08 L1493.59,653.68 L1499.01,653.27 L1504.49,652.87 L1510.00,652.46 L1515.57,652.06 L1521.18,651.65 L1526.84,651.25 L1532.54,650.85 L1538.30,650.45 L1539.86,650.34 L1541.42,650.23 L1542.97,650.12 L1544.53,650.02 L1546.09,649.91 L1547.65,649.80 L1549.20,649.70 L1550.76,649.59 L1552.32,649.49 L1553.88,649.38 L1555.43,649.27"/>
<path stroke="#ff8000" d="M881.69,1078.57 L881.92,1077.17 L882.15,1075.77 L882.38,1074.37 L882.62,1072.97 L882.85,1071.57 L883.09,1070.17 L883.33,1068.76 L883.58,1067.36 L883.82,1065.95 L884.07,1064.54 L884.32,1063.13 L884.57,1061.72 L884.82,1060.31 L885.07,1058.90 L885.33,1057.49 L885.59,1056.08 L885.85,1054.67 L886.11,1053.26 L886.38,1051.85 L886.64,1050.44 L886.91,1049.03 L887.19,1047.62 L887.46,1046.21 L887.73,1044.80 L888.01,1043.39 L888.29,1041.98 L888.57,1040.57 L888.86,1039.16 L889.15,1037.76 L889.43,1036.35 L889.73,1034.95 L890.02,1033.55 L890.32,1032.15 L890.61,1030.75 L890.92,1029.35 L891.22,1027.95 L891.52,1026.56 L891.83,1025.17 L892.14,1023.78 L892.46,1022.39 L892.77,1021.00 L893.09,1019.62 L893.41,1018.23 L893.73,1016.85 L894.06,1015.48 L894.39,1014.10 L894.72,1012.73 L895.05,1011.36 L895.39,1010.00 L895.73,1008.64 L896.07,1007.28 L896.41,1005.92 L896.76,1004.57 L897.11,1003.22 L897.46,1001.87 L897.82,1000.53 L898.18,999.19 L898.54,997.86 L898.90,996.53 L899.27,995.20 L899.64,993.88 L900.01,992.56 L900.39,991.24 L900.77,989.93 L901.15,988.63 L901.53,987.33 L901.92,986.03 L902.31,984.74 L902.71,983.46 L903.10,982.18 L903.50,980.90 L903.91,979.63 L904.31,978.36 L904.72,977.10 L905.14,975.85 L905.55,974.60 L905.97,973.36 L906.40,972.12 L906.82,970.89 L907.25,969.66 L907.69,968.44 L908.12,967.23 L908.57,966.02 L909.01,964.82 L909.46,963.63 L909.91,962.44 L910.36,961.26 L910.82,960.08 L911.28,958.92 L911.75,957.76 L912.22,956.60 L912.69,955.46 L913.17,954.32 L913.65,953.19 L914.13,952.06 L914.62,950.94 L915.11,949.83 L915.61,948.73 L916.11,947.63 L916.62,946.54 L917.12,945.46 L917.64,944.38 L918.15,943.30 L918.67,942.24 L919.20,941.18 L919.73,940.12 L920.26,939.07 L920.80,938.03 L921.34,936.99 L921.88,935.96 L922.43,934.93 L922.99,933.91 L923.55,932.90 L924.11,931.88 L924.68,930.88 L925.25,929.87 L925.83,928.88 L926.41,927.88 L927.00,926.90 L927.59,925.91 L928.18,924.93 L928.78,923.95 L929.39,922.98 L930.00,922.01 L930.62,921.05 L931.24,920.09 L931.86,919.13 L932.49,918.18 L933.12,917.23 L933.76,916.28 L934.41,915.34 L935.06,914.39 L935.72,913.46 L936.38,912.52 L937.04,911.59 L937.71,910.66 L938.39,909.73 L939.07,908.80 L939.76,907.88 L940.45,906.96 L941.15,906.04 L941.85,905.12 L942.56,904.21 L943.28,903.29 L944.00,902.38 L944.73,901.47 L945.46,900.56 L946.20,899.65 L946.94,898.74 L947.69,897.84 L948.45,896.93 L949.21,896.03 L949.98,895.12 L950.75,894.22 L951.53,893.32 L952.32,892.42 L953.11,891.51 L953.91,890.61 L954.72,889.71 L955.53,888.81 L956.35,887.91 L957.17,887.00 L958.01,886.10 L958.84,885.20 L959.69,884.30 L960.54,883.39 L961.40,882.49 L962.26,881.59 L963.14,880.68 L964.02,879.78 L964.90,878.88 L965.80,877.98 L966.70,877.07 L967.60,876.17 L968.52,875.27 L969.44,874.37 L970.37,873.47 L971.31,872.57 L972.25,871.66 L973.21,870.76 L974.16,869.86 L975.13,868.97 L976.11,868.07 L977.09,867.17 L978.08,866.27 L979.08,865.37 L980.09,864.48 L981.10,863.58 L982.12,862.69 L983.15,861.79 L984.19,860.90 L985.24,860.01 L986.30,859.11 L987.36,858.22 L988.43,857.33 L989.51,856.44 L990.60,855.55 L991.70,854.67 L992.81,853.78 L993.92,852.90 L995.05,852.01 L996.18,851.13 L997.33,850.25 L998.48,849.37 L999.64,848.49 L1000.81,847.61 L1001.99,846.73 L1003.18,845.86 L1004.38,844.98 L1005.59,844.11 L1006.80,843.24 L1008.03,842.37 L1009.27,841.50 L1010.52,840.64 L1011.77,839.77 L1013.04,838.91 L1014.32,838.05 L1015.61,837.19 L1016.90,836.33 L1018.21,835.47 L1019.53,834.62 L1020.86,833.76 L1022.20,832.91 L1023.55,832.06 L1024.91,831.21 L1026.28,830.37 L1027.67,829.52 L1029.06,828.68 L1030.47,827.84 L1031.88,827.00 L1033.31,826.17 L1034.75,825.34 L1036.20,824.50 L1037.66,823.67 L1039.14,822.85 L1040.62,822.02 L1042.12,821.20 L1043.63,820.38 L1045.15,819.56 L1046.68,818.74 L1048.23,817.92 L1049.79,817.11 L1051.36,816.30 L1052.94,815.49 L1054.54,814.68 L1056.14,813.87 L1057.76,813.07 L1059.40,812.26 L1061.05,811.46 L1062.71,810.66 L1064.38,809.87 L1066.07,809.07 L1067.77,808.28 L1069.48,807.49 L1071.21,806.70 L1072.95,805.91 L1074.71,805.12 L1076.47,804.34 L1078.26,803.55 L1080.06,802.77 L1081.87,801.99 L1083.69,801.22 L1085.54,800.44 L1087.39,799.67 L1089.26,798.89 L1091.15,798.12 L1093.05,797.35 L1094.96,796.58 L1096.89,795.82 L1098.84,795.05 L1100.80,794.29 L1102.78,793.53 L1104.77,792.77 L1106.78,792.01 L1108.81,791.25 L1110.85,790.50 L1112.91,789.75 L1114.98,788.99 L1117.07,788.24 L1119.18,787.49 L1121.30,786.75 L1123.44,786.00 L1125.60,785.26 L1127.78,784.51 L1129.97,783.77 L1132.18,783.03 L1134.41,782.29 L1136.65,781.56 L1138.91,780.82 L1141.20,780.09 L1143.50,779.35 L1145.81,778.62 L1148.15,777.89 L1150.51,777.16 L1152.88,776.43 L1155.27,775.71 L1157.68,774.98 L1160.12,774.26 L1162.57,773.53 L1165.04,772.81 L1167.53,772.09 L1170.04,771.37 L1172.57,770.66 L1175.12,769.94 L1177.69,769.22 L1180.28,768.51 L1182.89,767.80 L1185.52,767.08 L1188.17,766.37 L1190.85,765.66 L1193.54,764.95 L1196.26,764.25 L1199.00,763.54 L1201.76,762.83 L1204.54,762.13 L1207.35,761.42 L1210.18,760.72 L1213.03,760.02 L1215.90,759.32 L1218.79,758.61 L1221.71,757.91 L1224.65,757.22 L1227.62,756.52 L1230.61,755.82 L1233.62,755.12 L1236.66,754.43 L1239.72,753.73 L1242.80,753.04 L1245.91,752.34 L1249.05,751.65 L1252.21,750.96 L1255.39,750.27 L1258.61,749.57 L1261.84,748.88 L1265.10,748.19 L1268.39,747.50 L1271.71,746.81 L1275.05,746.12 L1278.41,745.44 L1281.81,744.75 L1285.23,744.06 L1288.68,743.37 L1292.15,742.69 L1295.66,742.00 L1299.19,741.31 L1302.75,740.63 L1306.34,739.94 L1309.95,739.26 L1313.60,738.57 L1317.28,737.89 L1320.98,737.20 L1324.71,736.52 L1328.48,735.83 L1332.27,735.15 L1336.09,734.46 L1339.95,733.78 L1343.83,733.10 L1347.75,732.41 L1351.70,731.73 L1355.68,731.04 L1359.69,730.36 L1363.73,729.67 L1367.80,728.99 L1371.91,728.31 L1376.05,727.62 L1380.22,726.94 L1384.43,726.25 L1388.67,725.57 L1392.94,724.88 L1397.25,724.20 L1401.59,723.51 L1405.97,722.83 L1410.38,722.14 L1414.83,721.46 L1419.31,720.77 L1423.83,720.09 L1428.38,719.40 L1432.97,718.72 L1437.60,718.03 L1442.27,717.35 L1446.97,716.66 L1451.71,715.98 L1456.48,715.30 L1461.30,714.61 L1466.15,713.93 L1471.04,713.25 L1475.97,712.57 L1480.94,711.89 L1485.95,711.20 L1491.00,710.52 L1496.09,709.84 L1501.22,709.17 L1506.39,708.49 L1511.61,707.81 L1516.86,707.13 L1522.16,706.46 L1527.49,705.78 L1532.88,705.10 L1538.30,704.43 L1539.86,704.24 L1541.42,704.05 L1542.97,703.85 L1544.53,703.66 L1546.09,703.47 L1547.65,703.28 L1549.20,703.09 L1550.76,702.90 L1552.32,702.72 L1553.88,702.53 L1555.43,702.34"/>
<path stroke="#000000" d="M862.43,699.31 L862.53,699.30 L862.63,699.30 L862.74,699.30 L862.84,699.29 L862.95,699.29 L863.06,699.28 L863.17,699.28 L863.28,699.27 L863.39,699.27 L863.50,699.27 L863.62,699.26 L863.73,699.26 L863.85,699.25 L863.97,699.25 L864.09,699.24 L864.21,699.24 L864.33,699.23 L864.45,699.23 L864.58,699.22 L864.70,699.22 L864.83,699.21 L864.96,699.21 L865.09,699.20 L865.22,699.20 L865.35,699.19 L865.49,699.19 L865.62,699.18 L865.76,699.18 L865.90,699.17 L866.04,699.17 L866.18,699.16 L866.32,699.15 L866.47,699.15 L866.62,699.14 L866.76,699.14 L866.91,699.13 L867.06,699.13 L867.22,699.12 L867.37,699.11 L867.53,699.11 L867.68,699.10 L867.84,699.09 L868.00,699.09 L868.17,699.08 L868.33,699.08 L868.50,699.07 L868.67,699.06 L868.84,699.06 L869.01,699.05 L869.18,699.04 L869.36,699.03 L869.53,699.03 L869.71,699.02 L869.89,699.01 L870.08,699.01 L870.26,699.00 L870.45,698.99 L870.64,698.98 L870.83,698.98 L871.02,698.97 L871.22,698.96 L871.41,698.95 L871.61,698.95 L871.82,698.94 L872.02,698.93 L872.23,698.92 L872.43,698.91 L872.64,698.91 L872.86,698.90 L873.07,698.89 L873.29,698.88 L873.51,698.87 L873.73,698.86 L873.96,698.85 L874.18,698.84 L874.41,698.84 L874.64,698.83 L874.88,698.82 L875.11,698.81 L875.35,698.80 L875.60,698.79 L875.84,698.78 L876.09,698.77 L876.34,698.76 L876.59,698.75 L876.84,698.74 L877.10,698.73 L877.36,698.72 L877.63,698.71 L877.89,698.70 L878.16,698.69 L878.44,698.68 L878.71,698.67 L878.99,698.66 L879.27,698.64 L879.55,698.63 L879.84,698.62 L880.13,698.61 L880.42,698.60 L880.72,698.59 L881.02,698.58 L881.32,698.56 L881.63,698.55 L881.94,698.54 L882.25,698.53 L882.57,698.51 L882.89,698.50 L883.21,698.49 L883.54,698.48 L883.87,698.46 L884.20,698.45 L884.54,698.44 L884.88,698.42 L885.22,698.41 L885.57,698.40 L885.92,698.38 L886.28,698.37 L886.64,698.35 L887.00,698.34 L887.37,698.33 L887.74,698.31 L888.12,698.30 L888.50,698.28 L888.88,698.27 L889.27,698.25 L889.66,698.24 L890.06,698.22 L890.46,698.20 L890.86,698.19 L891.27,698.17 L891.68,698.16 L892.10,698.14 L892.52,698.12 L892.95,698.11 L893.38,698.09 L893.82,698.07 L894.26,698.05 L894.70,698.04 L895.16,698.02 L895.61,698.00 L896.07,697.98 L896.54,697.96 L897.01,697.95 L897.48,697.93 L897.96,697.91 L898.45,697.89 L898.94,697.87 L899.43,697.85 L899.93,697.83 L900.44,697.81 L900.95,697.79 L901.47,697.77 L901.99,697.75 L902.52,697.73 L903.06,697.71 L903.60,697.69 L904.15,697.66 L904.70,697.64 L905.26,697.62 L905.82,697.60 L906.39,697.58 L906.97,697.55 L907.55,697.53 L908.14,697.51 L908.73,697.48 L909.33,697.46 L909.94,697.44 L910.56,697.41 L911.18,697.39 L911.81,697.36 L912.44,697.34 L913.08,697.31 L913.73,697.29 L914.39,697.26 L915.05,697.24 L915.72,697.21 L916.39,697.18 L917.08,697.16 L917.77,697.13 L918.47,697.10 L919.18,697.07 L919.89,697.04 L920.61,697.02 L921.34,696.99 L922.08,696.96 L922.82,696.93 L923.58,696.90 L924.34,696.87 L925.11,696.84 L925.89,696.81 L926.67,696.78 L927.47,696.75 L928.27,696.71 L929.08,696.68 L929.90,696.65 L930.73,696.62 L931.57,696.58 L932.42,696.55 L933.28,696.52 L934.14,696.48 L935.02,696.45 L935.90,696.41 L936.80,696.38 L937.70,696.34 L938.61,696.31 L939.54,696.27 L940.47,696.23 L941.41,696.20 L942.37,696.16 L943.33,696.12 L944.31,696.08 L945.29,696.04 L946.29,696.00 L947.29,695.96 L948.31,695.92 L949.34,695.88 L950.38,695.84 L951.43,695.80 L952.49,695.76 L953.56,695.72 L954.65,695.67 L955.74,695.63 L956.85,695.59 L957.97,695.54 L959.10,695.50 L960.25,695.45 L961.40,695.41 L962.57,695.36 L963.75,695.31 L964.95,695.27 L966.15,695.22 L967.37,695.17 L968.61,695.12 L969.85,695.07 L971.11,695.02 L972.39,694.97 L973.68,694.92 L974.98,694.87 L976.29,694.82 L977.62,694.77 L978.97,694.71 L980.32,694.66 L981.70,694.61 L983.08,694.55 L984.49,694.50 L985.90,694.44 L987.34,694.38 L988.79,694.33 L990.25,694.27 L991.73,694.21 L993.23,694.15 L994.74,694.09 L996.27,694.03 L997.81,693.97 L999.37,693.91 L1000.95,693.85 L1002.54,693.78 L1004.16,693.72 L1005.79,693.66 L1007.43,693.59 L1009.10,693.53 L1010.78,693.46 L1012.48,693.39 L1014.20,693.32 L1015.94,693.26 L1017.70,693.19 L1019.47,693.12 L1021.27,693.04 L1023.08,692.97 L1024.91,692.90 L1026.77,692.83 L1028.64,692.75 L1030.53,692.68 L1032.45,692.60 L1034.38,692.53 L1036.34,692.45 L1038.31,692.37 L1040.31,692.29 L1042.33,692.21 L1044.37,692.13 L1046.44,692.05 L1048.52,691.97 L1050.63,691.88 L1052.76,691.80 L1054.91,691.72 L1057.09,691.63 L1059.29,691.54 L1061.51,691.45 L1063.76,691.37 L1066.03,691.28 L1068.33,691.19 L1070.65,691.09 L1072.99,691.00 L1075.37,690.91 L1077.76,690.81 L1080.19,690.72 L1082.63,690.62 L1085.11,690.52 L1087.61,690.42 L1090.14,690.32 L1092.70,690.22 L1095.28,690.12 L1097.89,690.02 L1100.53,689.91 L1103.20,689.81 L1105.90,689.70 L1108.62,689.59 L1111.38,689.48 L1114.16,689.37 L1116.98,689.26 L1119.82,689.15 L1122.70,689.03 L1125.60,688.92 L1128.54,688.80 L1131.51,688.69 L1134.51,688.57 L1137.55,688.45 L1140.61,688.33 L1143.71,688.20 L1146.85,688.08 L1150.01,687.95 L1153.22,687.83 L1156.45,687.70 L1159.72,687.57 L1163.03,687.44 L1166.37,687.31 L1169.75,687.17 L1173.16,687.04 L1176.61,686.90 L1180.10,686.76 L1183.62,686.62 L1187.19,686.48 L1190.79,686.34 L1194.43,686.19 L1198.11,686.05 L1201.83,685.90 L1205.59,685.75 L1209.39,685.60 L1213.23,685.45 L1217.11,685.29 L1221.03,685.14 L1225.00,684.98 L1229.01,684.82 L1233.06,684.66 L1237.16,684.50 L1241.30,684.33 L1245.48,684.17 L1249.71,684.00 L1253.99,683.83 L1258.31,683.66 L1262.68,683.49 L1267.09,683.31 L1271.55,683.13 L1276.06,682.95 L1280.62,682.77 L1285.23,682.59 L1289.89,682.41 L1294.60,682.22 L1299.36,682.03 L1304.17,681.84 L1309.03,681.65 L1313.94,681.45 L1318.91,681.25 L1323.93,681.05 L1329.01,680.85 L1334.14,680.65 L1339.32,680.44 L1344.56,680.23 L1349.86,680.02 L1355.21,679.81 L1360.63,679.59 L1366.10,679.38 L1371.63,679.16 L1377.21,678.94 L1382.86,678.71 L1388.57,678.48 L1394.34,678.25 L1400.18,678.02 L1406.07,677.79 L1412.03,677.55 L1418.06,677.31 L1424.15,677.07 L1430.30,676.82 L1436.52,676.57 L1442.81,676.32 L1449.17,676.07 L1455.59,675.81 L1462.08,675.56 L1468.65,675.29 L1475.28,675.03 L1481.99,674.76 L1488.77,674.49 L1495.62,674.22 L1502.54,673.94 L1509.54,673.66 L1516.62,673.38 L1523.77,673.10 L1530.99,672.81 L1538.30,672.52 L1539.86,672.45 L1541.42,672.39 L1542.97,672.33 L1544.53,672.27 L1546.09,672.21 L1547.65,672.14 L1549.20,672.08 L1550.76,672.02 L1552.32,671.96 L1553.88,671.89 L1555.43,671.83"/>
</g>
<g id="legend" fill="none" stroke-width="5.6" stroke-linecap="round">
<line x1="310" y1="117.0" x2="449.6" y2="117.0" stroke="#000000"/>
<line x1="310" y1="214.9" x2="449.6" y2="214.9" stroke="#ff0000"/>
<line x1="310" y1="313.0" x2="449.6" y2="313.0" stroke="#0000ff"/>
<line x1="669.3" y1="117.0" x2="808.9" y2="117.0" stroke="#00803c"/>
<line x1="669.3" y1="214.9" x2="808.9" y2="214.9" stroke="#ff00ff"/>
<line x1="669.3" y1="313.0" x2="808.9" y2="313.0" stroke="#ff8000"/>
</g>
<g id="legend-text">
<text transform="matrix(0.6248 0 0 0.6570 466.44 138.74)" font-size="100" xml:space="preserve">exact</text>
<text transform="matrix(0.6298 0 0 0.6676 466.80 236.20)" font-size="100" xml:space="preserve">HF</text>
<text transform="matrix(0.6231 0 0 0.6676 466.86 334.00)" font-size="100" xml:space="preserve">LDA</text>
<text transform="matrix(0.6237 0 0 0.6676 826.85 138.20)" font-size="100" xml:space="preserve">PBE</text>
<text transform="matrix(0.6471 0 0 0.6676 826.06 236.20)" font-size="100" xml:space="preserve">BLYP</text>
<text transform="matrix(0.6441 0 0 0.6671 826.09 334.03)" font-size="100" xml:space="preserve">B3LYP</text>
</g>
<g id="ticklabels">
<text transform="matrix(0.6648 0 0 0.6475 167.03 296.00)" font-size="100" xml:space="preserve">2</text>
<text transform="matrix(0.6178 0 0 0.6601 168.48 986.24)" font-size="100" xml:space="preserve">0</text>
<text transform="matrix(0.6400 0 0 0.6570 168.44 641.00)" font-size="100" clip-path="url(#k1)">1</text>
<text transform="matrix(0.6220 0 0 0.6657 255.41 1226.13)" font-size="100" xml:space="preserve">0</text>
<text transform="matrix(0.6340 0 0 0.6657 563.16 1226.13)" font-size="100" xml:space="preserve">0.5</text>
<text transform="matrix(0.6500 0 0 0.6570 924.20 1225.20)" font-size="100" clip-path="url(#k1)">1</text>
<text transform="matrix(0.6549 0 0 0.6480 1591.53 1225.30)" font-size="100" xml:space="preserve">2</text>
<text transform="matrix(0.6263 0 0 0.663 1232.51 1225.8)" font-size="100" clip-path="url(#k15)">1.5</text>
</g>
<g id="inset-ticklabels">
<text transform="matrix(0.4670 0 0 0.4975 790.13 905.80)" font-size="100" xml:space="preserve">0</text>
<text transform="matrix(0.4650 0 0 0.4950 791.09 596.00)" font-size="100" clip-path="url(#k1)">1</text>
<text transform="matrix(0.4733 0 0 0.4989 839.71 1119.50)" font-size="100" xml:space="preserve">0</text>
<text transform="matrix(0.4705 0 0 0.4975 1506.02 1119.3)" font-size="100" clip-path="url(#k01)">0.1</text>
</g>
<g id="titles">
<text transform="matrix(0.7429 0 0 0.7432 797.93 1311.38)" font-size="100" xml:space="preserve">ħ (a. u.)</text>
<text transform="matrix(0 -0.7299 0.7650 0 99.80 831.92)" font-size="100" xml:space="preserve">Energy (Hartree)</text>
</g>
</svg>
</body></html>
